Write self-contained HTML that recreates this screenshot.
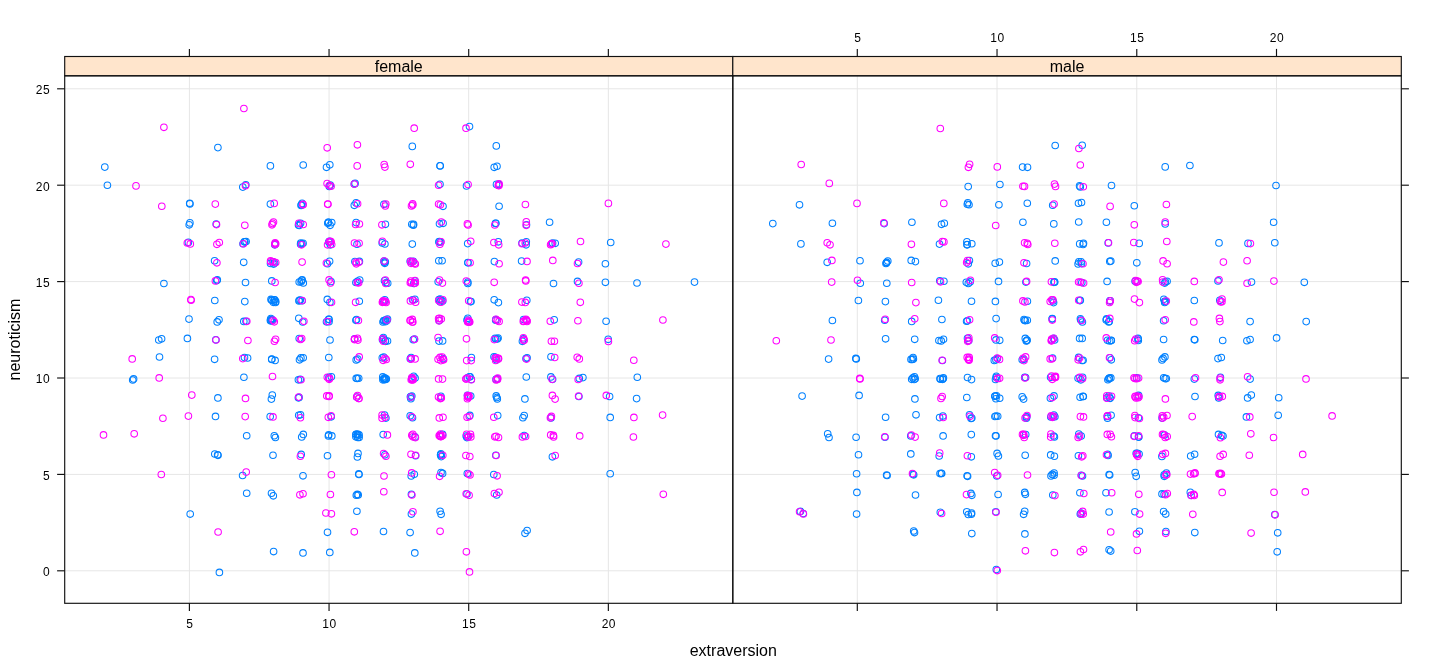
<!DOCTYPE html>
<html lang="en"><head><meta charset="utf-8"><title>neuroticism ~ extraversion | sex</title>
<style>html,body{margin:0;padding:0;background:#fff;overflow:hidden}svg{display:block}text{font-family:"Liberation Sans",sans-serif;fill:#000}.t{font-size:12px;letter-spacing:.5px}.l{font-size:16px}.g{stroke:#e6e6e6;stroke-width:1;fill:none}.k{stroke:#111;stroke-width:1.15;fill:none}.b{stroke:#0080ff}.m{stroke:#ff00ff}circle{fill:none;stroke-width:1.05}</style></head><body>
<svg width="1440" height="672" viewBox="0 0 1440 672">
<rect width="1440" height="672" fill="#fff"/>
<line class="g" x1="189.40" x2="189.40" y1="75.8" y2="603.3"/>
<line class="g" x1="329.05" x2="329.05" y1="75.8" y2="603.3"/>
<line class="g" x1="468.70" x2="468.70" y1="75.8" y2="603.3"/>
<line class="g" x1="608.35" x2="608.35" y1="75.8" y2="603.3"/>
<line class="g" x1="64.7" x2="732.8" y1="570.80" y2="570.80"/>
<line class="g" x1="64.7" x2="732.8" y1="474.40" y2="474.40"/>
<line class="g" x1="64.7" x2="732.8" y1="378.00" y2="378.00"/>
<line class="g" x1="64.7" x2="732.8" y1="281.60" y2="281.60"/>
<line class="g" x1="64.7" x2="732.8" y1="185.20" y2="185.20"/>
<line class="g" x1="64.7" x2="732.8" y1="88.80" y2="88.80"/>
<line class="g" x1="857.30" x2="857.30" y1="75.8" y2="603.3"/>
<line class="g" x1="997.03" x2="997.03" y1="75.8" y2="603.3"/>
<line class="g" x1="1136.77" x2="1136.77" y1="75.8" y2="603.3"/>
<line class="g" x1="1276.50" x2="1276.50" y1="75.8" y2="603.3"/>
<line class="g" x1="732.8" x2="1401.3" y1="570.80" y2="570.80"/>
<line class="g" x1="732.8" x2="1401.3" y1="474.40" y2="474.40"/>
<line class="g" x1="732.8" x2="1401.3" y1="378.00" y2="378.00"/>
<line class="g" x1="732.8" x2="1401.3" y1="281.60" y2="281.60"/>
<line class="g" x1="732.8" x2="1401.3" y1="185.20" y2="185.20"/>
<line class="g" x1="732.8" x2="1401.3" y1="88.80" y2="88.80"/>
<g id="pts">
<circle class="b" cx="469.5" cy="126.6" r="3.3"/>
<circle class="b" cx="217.9" cy="147.6" r="3.3"/>
<circle class="b" cx="412.3" cy="146.4" r="3.3"/>
<circle class="b" cx="496.3" cy="145.9" r="3.3"/>
<circle class="b" cx="104.8" cy="167.1" r="3.3"/>
<circle class="b" cx="270.4" cy="165.9" r="3.3"/>
<circle class="b" cx="303.2" cy="165.0" r="3.3"/>
<circle class="b" cx="326.5" cy="167.3" r="3.3"/>
<circle class="b" cx="329.8" cy="164.8" r="3.3"/>
<circle class="b" cx="440.0" cy="165.7" r="3.3"/>
<circle class="b" cx="440.2" cy="165.9" r="3.3"/>
<circle class="b" cx="494.2" cy="167.3" r="3.3"/>
<circle class="b" cx="497.0" cy="166.2" r="3.3"/>
<circle class="b" cx="107.4" cy="185.2" r="3.3"/>
<circle class="b" cx="245.8" cy="184.7" r="3.3"/>
<circle class="b" cx="242.8" cy="187.1" r="3.3"/>
<circle class="b" cx="329.3" cy="186.4" r="3.3"/>
<circle class="b" cx="330.3" cy="185.0" r="3.3"/>
<circle class="b" cx="354.3" cy="184.1" r="3.3"/>
<circle class="b" cx="355.1" cy="183.4" r="3.3"/>
<circle class="b" cx="440.0" cy="184.3" r="3.3"/>
<circle class="b" cx="466.5" cy="185.9" r="3.3"/>
<circle class="b" cx="496.5" cy="184.4" r="3.3"/>
<circle class="b" cx="498.7" cy="184.4" r="3.3"/>
<circle class="b" cx="189.7" cy="203.2" r="3.3"/>
<circle class="b" cx="189.9" cy="203.9" r="3.3"/>
<circle class="b" cx="270.4" cy="204.1" r="3.3"/>
<circle class="b" cx="301.1" cy="205.4" r="3.3"/>
<circle class="b" cx="302.1" cy="203.4" r="3.3"/>
<circle class="b" cx="301.3" cy="204.8" r="3.3"/>
<circle class="b" cx="356.1" cy="202.9" r="3.3"/>
<circle class="b" cx="354.3" cy="205.3" r="3.3"/>
<circle class="b" cx="383.9" cy="204.3" r="3.3"/>
<circle class="b" cx="443.0" cy="206.3" r="3.3"/>
<circle class="b" cx="499.1" cy="206.2" r="3.3"/>
<circle class="b" cx="189.2" cy="224.8" r="3.3"/>
<circle class="b" cx="189.9" cy="222.9" r="3.3"/>
<circle class="b" cx="216.2" cy="224.1" r="3.3"/>
<circle class="b" cx="298.5" cy="224.9" r="3.3"/>
<circle class="b" cx="300.6" cy="223.3" r="3.3"/>
<circle class="b" cx="299.2" cy="225.5" r="3.3"/>
<circle class="b" cx="328.4" cy="222.3" r="3.3"/>
<circle class="b" cx="328.4" cy="222.3" r="3.3"/>
<circle class="b" cx="330.1" cy="225.3" r="3.3"/>
<circle class="b" cx="331.7" cy="222.6" r="3.3"/>
<circle class="b" cx="327.8" cy="223.2" r="3.3"/>
<circle class="b" cx="356.1" cy="222.6" r="3.3"/>
<circle class="b" cx="385.4" cy="224.3" r="3.3"/>
<circle class="b" cx="411.8" cy="224.2" r="3.3"/>
<circle class="b" cx="413.3" cy="225.2" r="3.3"/>
<circle class="b" cx="413.6" cy="224.4" r="3.3"/>
<circle class="b" cx="443.1" cy="223.3" r="3.3"/>
<circle class="b" cx="439.5" cy="223.8" r="3.3"/>
<circle class="b" cx="495.9" cy="223.3" r="3.3"/>
<circle class="b" cx="495.5" cy="223.4" r="3.3"/>
<circle class="b" cx="526.5" cy="224.7" r="3.3"/>
<circle class="b" cx="549.6" cy="222.2" r="3.3"/>
<circle class="b" cx="188.4" cy="242.4" r="3.3"/>
<circle class="b" cx="243.0" cy="243.7" r="3.3"/>
<circle class="b" cx="244.3" cy="241.8" r="3.3"/>
<circle class="b" cx="244.9" cy="241.7" r="3.3"/>
<circle class="b" cx="246.1" cy="241.6" r="3.3"/>
<circle class="b" cx="274.8" cy="244.8" r="3.3"/>
<circle class="b" cx="275.2" cy="243.7" r="3.3"/>
<circle class="b" cx="300.7" cy="243.0" r="3.3"/>
<circle class="b" cx="303.1" cy="243.2" r="3.3"/>
<circle class="b" cx="301.9" cy="243.8" r="3.3"/>
<circle class="b" cx="300.6" cy="244.2" r="3.3"/>
<circle class="b" cx="329.4" cy="241.2" r="3.3"/>
<circle class="b" cx="330.3" cy="244.8" r="3.3"/>
<circle class="b" cx="328.8" cy="242.1" r="3.3"/>
<circle class="b" cx="357.0" cy="244.2" r="3.3"/>
<circle class="b" cx="384.9" cy="244.0" r="3.3"/>
<circle class="b" cx="382.2" cy="242.9" r="3.3"/>
<circle class="b" cx="412.3" cy="244.1" r="3.3"/>
<circle class="b" cx="439.4" cy="241.6" r="3.3"/>
<circle class="b" cx="440.6" cy="242.0" r="3.3"/>
<circle class="b" cx="438.9" cy="241.9" r="3.3"/>
<circle class="b" cx="467.7" cy="243.6" r="3.3"/>
<circle class="b" cx="498.3" cy="241.8" r="3.3"/>
<circle class="b" cx="526.3" cy="241.7" r="3.3"/>
<circle class="b" cx="526.1" cy="244.8" r="3.3"/>
<circle class="b" cx="522.0" cy="243.1" r="3.3"/>
<circle class="b" cx="552.6" cy="243.1" r="3.3"/>
<circle class="b" cx="555.2" cy="243.3" r="3.3"/>
<circle class="b" cx="610.7" cy="242.5" r="3.3"/>
<circle class="b" cx="214.6" cy="260.7" r="3.3"/>
<circle class="b" cx="243.7" cy="262.3" r="3.3"/>
<circle class="b" cx="273.6" cy="264.1" r="3.3"/>
<circle class="b" cx="273.0" cy="261.7" r="3.3"/>
<circle class="b" cx="274.6" cy="263.0" r="3.3"/>
<circle class="b" cx="270.5" cy="263.4" r="3.3"/>
<circle class="b" cx="329.6" cy="261.2" r="3.3"/>
<circle class="b" cx="327.5" cy="263.7" r="3.3"/>
<circle class="b" cx="354.9" cy="261.6" r="3.3"/>
<circle class="b" cx="359.4" cy="261.4" r="3.3"/>
<circle class="b" cx="384.8" cy="263.3" r="3.3"/>
<circle class="b" cx="384.3" cy="262.2" r="3.3"/>
<circle class="b" cx="385.3" cy="261.7" r="3.3"/>
<circle class="b" cx="384.0" cy="261.0" r="3.3"/>
<circle class="b" cx="413.3" cy="261.2" r="3.3"/>
<circle class="b" cx="410.2" cy="261.3" r="3.3"/>
<circle class="b" cx="411.9" cy="262.1" r="3.3"/>
<circle class="b" cx="438.8" cy="260.7" r="3.3"/>
<circle class="b" cx="442.1" cy="260.7" r="3.3"/>
<circle class="b" cx="468.0" cy="262.7" r="3.3"/>
<circle class="b" cx="467.9" cy="262.6" r="3.3"/>
<circle class="b" cx="494.4" cy="261.6" r="3.3"/>
<circle class="b" cx="521.6" cy="261.1" r="3.3"/>
<circle class="b" cx="578.6" cy="262.1" r="3.3"/>
<circle class="b" cx="605.4" cy="263.7" r="3.3"/>
<circle class="b" cx="163.9" cy="283.5" r="3.3"/>
<circle class="b" cx="217.3" cy="279.8" r="3.3"/>
<circle class="b" cx="216.8" cy="280.6" r="3.3"/>
<circle class="b" cx="245.5" cy="282.5" r="3.3"/>
<circle class="b" cx="271.8" cy="280.9" r="3.3"/>
<circle class="b" cx="299.2" cy="282.0" r="3.3"/>
<circle class="b" cx="303.3" cy="282.9" r="3.3"/>
<circle class="b" cx="301.1" cy="281.7" r="3.3"/>
<circle class="b" cx="302.2" cy="279.9" r="3.3"/>
<circle class="b" cx="301.6" cy="280.2" r="3.3"/>
<circle class="b" cx="331.0" cy="281.5" r="3.3"/>
<circle class="b" cx="357.5" cy="281.3" r="3.3"/>
<circle class="b" cx="359.7" cy="280.1" r="3.3"/>
<circle class="b" cx="355.9" cy="282.5" r="3.3"/>
<circle class="b" cx="384.5" cy="280.8" r="3.3"/>
<circle class="b" cx="386.0" cy="282.7" r="3.3"/>
<circle class="b" cx="387.7" cy="283.2" r="3.3"/>
<circle class="b" cx="415.0" cy="281.0" r="3.3"/>
<circle class="b" cx="413.8" cy="283.4" r="3.3"/>
<circle class="b" cx="438.2" cy="281.8" r="3.3"/>
<circle class="b" cx="467.8" cy="283.4" r="3.3"/>
<circle class="b" cx="467.8" cy="282.1" r="3.3"/>
<circle class="b" cx="553.5" cy="283.5" r="3.3"/>
<circle class="b" cx="577.5" cy="281.4" r="3.3"/>
<circle class="b" cx="605.4" cy="282.3" r="3.3"/>
<circle class="b" cx="637.0" cy="283.0" r="3.3"/>
<circle class="b" cx="694.5" cy="282.1" r="3.3"/>
<circle class="b" cx="214.8" cy="300.5" r="3.3"/>
<circle class="b" cx="244.8" cy="301.6" r="3.3"/>
<circle class="b" cx="273.4" cy="302.3" r="3.3"/>
<circle class="b" cx="271.9" cy="300.2" r="3.3"/>
<circle class="b" cx="271.0" cy="299.4" r="3.3"/>
<circle class="b" cx="275.5" cy="302.4" r="3.3"/>
<circle class="b" cx="275.7" cy="301.4" r="3.3"/>
<circle class="b" cx="274.7" cy="299.9" r="3.3"/>
<circle class="b" cx="272.0" cy="300.2" r="3.3"/>
<circle class="b" cx="274.1" cy="299.7" r="3.3"/>
<circle class="b" cx="302.1" cy="300.7" r="3.3"/>
<circle class="b" cx="299.0" cy="300.9" r="3.3"/>
<circle class="b" cx="300.3" cy="300.0" r="3.3"/>
<circle class="b" cx="299.3" cy="300.3" r="3.3"/>
<circle class="b" cx="327.3" cy="299.4" r="3.3"/>
<circle class="b" cx="329.9" cy="302.3" r="3.3"/>
<circle class="b" cx="359.3" cy="301.2" r="3.3"/>
<circle class="b" cx="383.8" cy="302.1" r="3.3"/>
<circle class="b" cx="384.8" cy="299.8" r="3.3"/>
<circle class="b" cx="414.9" cy="299.2" r="3.3"/>
<circle class="b" cx="412.6" cy="299.7" r="3.3"/>
<circle class="b" cx="441.1" cy="300.2" r="3.3"/>
<circle class="b" cx="440.2" cy="299.0" r="3.3"/>
<circle class="b" cx="439.0" cy="299.5" r="3.3"/>
<circle class="b" cx="440.0" cy="301.7" r="3.3"/>
<circle class="b" cx="442.7" cy="301.1" r="3.3"/>
<circle class="b" cx="470.5" cy="301.6" r="3.3"/>
<circle class="b" cx="471.0" cy="301.6" r="3.3"/>
<circle class="b" cx="494.2" cy="299.8" r="3.3"/>
<circle class="b" cx="498.4" cy="302.6" r="3.3"/>
<circle class="b" cx="526.8" cy="300.2" r="3.3"/>
<circle class="b" cx="189.0" cy="319.1" r="3.3"/>
<circle class="b" cx="217.2" cy="321.9" r="3.3"/>
<circle class="b" cx="219.0" cy="319.8" r="3.3"/>
<circle class="b" cx="243.8" cy="321.4" r="3.3"/>
<circle class="b" cx="246.0" cy="321.3" r="3.3"/>
<circle class="b" cx="272.0" cy="319.6" r="3.3"/>
<circle class="b" cx="271.2" cy="320.3" r="3.3"/>
<circle class="b" cx="270.9" cy="318.5" r="3.3"/>
<circle class="b" cx="270.5" cy="319.7" r="3.3"/>
<circle class="b" cx="270.5" cy="320.8" r="3.3"/>
<circle class="b" cx="272.2" cy="320.8" r="3.3"/>
<circle class="b" cx="302.7" cy="322.0" r="3.3"/>
<circle class="b" cx="298.8" cy="318.3" r="3.3"/>
<circle class="b" cx="328.7" cy="319.2" r="3.3"/>
<circle class="b" cx="329.0" cy="321.7" r="3.3"/>
<circle class="b" cx="326.5" cy="321.8" r="3.3"/>
<circle class="b" cx="329.0" cy="319.4" r="3.3"/>
<circle class="b" cx="356.5" cy="319.6" r="3.3"/>
<circle class="b" cx="355.9" cy="320.3" r="3.3"/>
<circle class="b" cx="386.9" cy="320.4" r="3.3"/>
<circle class="b" cx="384.1" cy="320.5" r="3.3"/>
<circle class="b" cx="387.5" cy="319.0" r="3.3"/>
<circle class="b" cx="383.6" cy="320.7" r="3.3"/>
<circle class="b" cx="383.0" cy="322.0" r="3.3"/>
<circle class="b" cx="385.4" cy="320.1" r="3.3"/>
<circle class="b" cx="385.7" cy="321.6" r="3.3"/>
<circle class="b" cx="439.3" cy="320.6" r="3.3"/>
<circle class="b" cx="469.0" cy="322.0" r="3.3"/>
<circle class="b" cx="467.8" cy="318.3" r="3.3"/>
<circle class="b" cx="467.0" cy="320.1" r="3.3"/>
<circle class="b" cx="495.7" cy="320.2" r="3.3"/>
<circle class="b" cx="495.8" cy="319.5" r="3.3"/>
<circle class="b" cx="523.6" cy="319.5" r="3.3"/>
<circle class="b" cx="554.2" cy="319.8" r="3.3"/>
<circle class="b" cx="606.1" cy="321.2" r="3.3"/>
<circle class="b" cx="158.8" cy="340.0" r="3.3"/>
<circle class="b" cx="161.6" cy="338.8" r="3.3"/>
<circle class="b" cx="187.4" cy="338.4" r="3.3"/>
<circle class="b" cx="215.8" cy="339.8" r="3.3"/>
<circle class="b" cx="299.2" cy="338.6" r="3.3"/>
<circle class="b" cx="330.0" cy="340.0" r="3.3"/>
<circle class="b" cx="354.7" cy="338.7" r="3.3"/>
<circle class="b" cx="382.5" cy="339.8" r="3.3"/>
<circle class="b" cx="387.5" cy="341.0" r="3.3"/>
<circle class="b" cx="385.3" cy="340.9" r="3.3"/>
<circle class="b" cx="383.0" cy="338.9" r="3.3"/>
<circle class="b" cx="385.4" cy="341.3" r="3.3"/>
<circle class="b" cx="383.4" cy="337.6" r="3.3"/>
<circle class="b" cx="413.2" cy="339.7" r="3.3"/>
<circle class="b" cx="414.4" cy="339.0" r="3.3"/>
<circle class="b" cx="439.0" cy="341.1" r="3.3"/>
<circle class="b" cx="442.6" cy="340.9" r="3.3"/>
<circle class="b" cx="495.1" cy="338.2" r="3.3"/>
<circle class="b" cx="497.3" cy="338.9" r="3.3"/>
<circle class="b" cx="498.1" cy="338.0" r="3.3"/>
<circle class="b" cx="495.8" cy="339.0" r="3.3"/>
<circle class="b" cx="522.4" cy="341.3" r="3.3"/>
<circle class="b" cx="523.4" cy="338.9" r="3.3"/>
<circle class="b" cx="608.2" cy="339.3" r="3.3"/>
<circle class="b" cx="159.5" cy="357.0" r="3.3"/>
<circle class="b" cx="214.6" cy="359.3" r="3.3"/>
<circle class="b" cx="247.6" cy="358.0" r="3.3"/>
<circle class="b" cx="244.5" cy="357.6" r="3.3"/>
<circle class="b" cx="275.1" cy="360.4" r="3.3"/>
<circle class="b" cx="271.7" cy="359.0" r="3.3"/>
<circle class="b" cx="271.8" cy="359.4" r="3.3"/>
<circle class="b" cx="299.5" cy="359.8" r="3.3"/>
<circle class="b" cx="303.2" cy="357.8" r="3.3"/>
<circle class="b" cx="300.9" cy="357.9" r="3.3"/>
<circle class="b" cx="328.8" cy="357.5" r="3.3"/>
<circle class="b" cx="356.2" cy="359.9" r="3.3"/>
<circle class="b" cx="357.7" cy="359.1" r="3.3"/>
<circle class="b" cx="383.7" cy="357.0" r="3.3"/>
<circle class="b" cx="382.3" cy="357.8" r="3.3"/>
<circle class="b" cx="410.3" cy="358.8" r="3.3"/>
<circle class="b" cx="411.1" cy="357.6" r="3.3"/>
<circle class="b" cx="443.2" cy="359.0" r="3.3"/>
<circle class="b" cx="443.2" cy="358.8" r="3.3"/>
<circle class="b" cx="471.4" cy="357.6" r="3.3"/>
<circle class="b" cx="496.6" cy="359.7" r="3.3"/>
<circle class="b" cx="495.4" cy="357.2" r="3.3"/>
<circle class="b" cx="494.0" cy="356.8" r="3.3"/>
<circle class="b" cx="526.0" cy="358.5" r="3.3"/>
<circle class="b" cx="527.1" cy="357.8" r="3.3"/>
<circle class="b" cx="551.0" cy="356.8" r="3.3"/>
<circle class="b" cx="132.7" cy="380.0" r="3.3"/>
<circle class="b" cx="133.6" cy="378.9" r="3.3"/>
<circle class="b" cx="243.9" cy="377.2" r="3.3"/>
<circle class="b" cx="300.2" cy="379.4" r="3.3"/>
<circle class="b" cx="298.4" cy="379.8" r="3.3"/>
<circle class="b" cx="328.9" cy="377.4" r="3.3"/>
<circle class="b" cx="331.4" cy="376.8" r="3.3"/>
<circle class="b" cx="357.2" cy="378.4" r="3.3"/>
<circle class="b" cx="356.2" cy="378.2" r="3.3"/>
<circle class="b" cx="358.7" cy="378.2" r="3.3"/>
<circle class="b" cx="382.9" cy="379.8" r="3.3"/>
<circle class="b" cx="384.8" cy="379.0" r="3.3"/>
<circle class="b" cx="384.7" cy="377.7" r="3.3"/>
<circle class="b" cx="383.6" cy="378.7" r="3.3"/>
<circle class="b" cx="385.5" cy="379.5" r="3.3"/>
<circle class="b" cx="382.8" cy="376.9" r="3.3"/>
<circle class="b" cx="386.3" cy="378.9" r="3.3"/>
<circle class="b" cx="384.5" cy="379.6" r="3.3"/>
<circle class="b" cx="411.8" cy="378.6" r="3.3"/>
<circle class="b" cx="413.7" cy="376.3" r="3.3"/>
<circle class="b" cx="415.1" cy="378.0" r="3.3"/>
<circle class="b" cx="470.1" cy="376.7" r="3.3"/>
<circle class="b" cx="469.4" cy="376.8" r="3.3"/>
<circle class="b" cx="467.4" cy="377.8" r="3.3"/>
<circle class="b" cx="471.3" cy="379.4" r="3.3"/>
<circle class="b" cx="496.0" cy="379.2" r="3.3"/>
<circle class="b" cx="497.3" cy="378.7" r="3.3"/>
<circle class="b" cx="526.3" cy="377.0" r="3.3"/>
<circle class="b" cx="552.6" cy="379.3" r="3.3"/>
<circle class="b" cx="550.9" cy="376.9" r="3.3"/>
<circle class="b" cx="579.3" cy="378.4" r="3.3"/>
<circle class="b" cx="582.9" cy="377.6" r="3.3"/>
<circle class="b" cx="637.3" cy="377.2" r="3.3"/>
<circle class="b" cx="217.9" cy="397.9" r="3.3"/>
<circle class="b" cx="271.4" cy="399.1" r="3.3"/>
<circle class="b" cx="272.3" cy="395.1" r="3.3"/>
<circle class="b" cx="298.4" cy="397.8" r="3.3"/>
<circle class="b" cx="299.1" cy="397.4" r="3.3"/>
<circle class="b" cx="356.8" cy="397.1" r="3.3"/>
<circle class="b" cx="411.8" cy="396.0" r="3.3"/>
<circle class="b" cx="410.8" cy="396.9" r="3.3"/>
<circle class="b" cx="410.4" cy="396.8" r="3.3"/>
<circle class="b" cx="410.9" cy="398.7" r="3.3"/>
<circle class="b" cx="440.9" cy="396.3" r="3.3"/>
<circle class="b" cx="470.7" cy="396.0" r="3.3"/>
<circle class="b" cx="467.5" cy="395.4" r="3.3"/>
<circle class="b" cx="496.8" cy="397.5" r="3.3"/>
<circle class="b" cx="497.3" cy="398.9" r="3.3"/>
<circle class="b" cx="496.2" cy="395.9" r="3.3"/>
<circle class="b" cx="524.9" cy="398.9" r="3.3"/>
<circle class="b" cx="578.9" cy="396.5" r="3.3"/>
<circle class="b" cx="609.6" cy="396.5" r="3.3"/>
<circle class="b" cx="636.6" cy="398.6" r="3.3"/>
<circle class="b" cx="215.5" cy="416.4" r="3.3"/>
<circle class="b" cx="270.2" cy="416.6" r="3.3"/>
<circle class="b" cx="298.7" cy="415.2" r="3.3"/>
<circle class="b" cx="300.5" cy="414.7" r="3.3"/>
<circle class="b" cx="331.2" cy="416.8" r="3.3"/>
<circle class="b" cx="384.6" cy="415.0" r="3.3"/>
<circle class="b" cx="385.9" cy="418.1" r="3.3"/>
<circle class="b" cx="412.5" cy="417.7" r="3.3"/>
<circle class="b" cx="410.2" cy="415.7" r="3.3"/>
<circle class="b" cx="469.9" cy="415.4" r="3.3"/>
<circle class="b" cx="497.7" cy="415.6" r="3.3"/>
<circle class="b" cx="522.9" cy="417.7" r="3.3"/>
<circle class="b" cx="524.2" cy="415.6" r="3.3"/>
<circle class="b" cx="551.0" cy="418.0" r="3.3"/>
<circle class="b" cx="610.2" cy="417.4" r="3.3"/>
<circle class="b" cx="246.7" cy="435.7" r="3.3"/>
<circle class="b" cx="274.3" cy="435.7" r="3.3"/>
<circle class="b" cx="275.4" cy="437.5" r="3.3"/>
<circle class="b" cx="301.7" cy="437.0" r="3.3"/>
<circle class="b" cx="303.3" cy="434.4" r="3.3"/>
<circle class="b" cx="328.7" cy="434.7" r="3.3"/>
<circle class="b" cx="328.4" cy="435.9" r="3.3"/>
<circle class="b" cx="331.8" cy="435.9" r="3.3"/>
<circle class="b" cx="357.5" cy="434.1" r="3.3"/>
<circle class="b" cx="355.9" cy="436.7" r="3.3"/>
<circle class="b" cx="357.8" cy="434.9" r="3.3"/>
<circle class="b" cx="359.1" cy="437.5" r="3.3"/>
<circle class="b" cx="359.1" cy="434.9" r="3.3"/>
<circle class="b" cx="356.0" cy="434.5" r="3.3"/>
<circle class="b" cx="356.0" cy="434.2" r="3.3"/>
<circle class="b" cx="357.7" cy="437.4" r="3.3"/>
<circle class="b" cx="383.2" cy="434.6" r="3.3"/>
<circle class="b" cx="415.0" cy="436.9" r="3.3"/>
<circle class="b" cx="442.6" cy="434.2" r="3.3"/>
<circle class="b" cx="466.2" cy="436.1" r="3.3"/>
<circle class="b" cx="467.7" cy="437.0" r="3.3"/>
<circle class="b" cx="466.9" cy="437.6" r="3.3"/>
<circle class="b" cx="524.2" cy="435.6" r="3.3"/>
<circle class="b" cx="217.6" cy="454.7" r="3.3"/>
<circle class="b" cx="218.0" cy="455.3" r="3.3"/>
<circle class="b" cx="214.8" cy="454.0" r="3.3"/>
<circle class="b" cx="273.0" cy="455.2" r="3.3"/>
<circle class="b" cx="301.2" cy="454.4" r="3.3"/>
<circle class="b" cx="327.5" cy="455.7" r="3.3"/>
<circle class="b" cx="357.4" cy="457.0" r="3.3"/>
<circle class="b" cx="358.0" cy="453.4" r="3.3"/>
<circle class="b" cx="384.9" cy="454.8" r="3.3"/>
<circle class="b" cx="415.6" cy="455.7" r="3.3"/>
<circle class="b" cx="441.2" cy="456.6" r="3.3"/>
<circle class="b" cx="440.9" cy="453.8" r="3.3"/>
<circle class="b" cx="440.6" cy="455.0" r="3.3"/>
<circle class="b" cx="440.7" cy="454.8" r="3.3"/>
<circle class="b" cx="495.8" cy="455.2" r="3.3"/>
<circle class="b" cx="552.4" cy="456.8" r="3.3"/>
<circle class="b" cx="242.6" cy="475.5" r="3.3"/>
<circle class="b" cx="303.0" cy="475.8" r="3.3"/>
<circle class="b" cx="358.8" cy="473.9" r="3.3"/>
<circle class="b" cx="359.0" cy="474.5" r="3.3"/>
<circle class="b" cx="411.2" cy="476.0" r="3.3"/>
<circle class="b" cx="414.3" cy="474.2" r="3.3"/>
<circle class="b" cx="441.0" cy="472.5" r="3.3"/>
<circle class="b" cx="442.6" cy="473.4" r="3.3"/>
<circle class="b" cx="467.3" cy="473.6" r="3.3"/>
<circle class="b" cx="493.8" cy="474.5" r="3.3"/>
<circle class="b" cx="610.2" cy="473.7" r="3.3"/>
<circle class="b" cx="246.7" cy="493.2" r="3.3"/>
<circle class="b" cx="271.5" cy="493.2" r="3.3"/>
<circle class="b" cx="273.3" cy="495.8" r="3.3"/>
<circle class="b" cx="356.3" cy="495.2" r="3.3"/>
<circle class="b" cx="357.3" cy="494.4" r="3.3"/>
<circle class="b" cx="358.2" cy="494.9" r="3.3"/>
<circle class="b" cx="411.4" cy="494.3" r="3.3"/>
<circle class="b" cx="467.0" cy="494.0" r="3.3"/>
<circle class="b" cx="496.7" cy="495.0" r="3.3"/>
<circle class="b" cx="190.2" cy="514.1" r="3.3"/>
<circle class="b" cx="356.9" cy="511.2" r="3.3"/>
<circle class="b" cx="411.4" cy="514.1" r="3.3"/>
<circle class="b" cx="440.1" cy="511.2" r="3.3"/>
<circle class="b" cx="441.1" cy="514.3" r="3.3"/>
<circle class="b" cx="327.5" cy="532.3" r="3.3"/>
<circle class="b" cx="383.5" cy="531.5" r="3.3"/>
<circle class="b" cx="410.1" cy="532.6" r="3.3"/>
<circle class="b" cx="525.0" cy="533.3" r="3.3"/>
<circle class="b" cx="527.1" cy="530.5" r="3.3"/>
<circle class="b" cx="273.6" cy="551.6" r="3.3"/>
<circle class="b" cx="303.0" cy="552.9" r="3.3"/>
<circle class="b" cx="329.8" cy="552.4" r="3.3"/>
<circle class="b" cx="414.8" cy="552.9" r="3.3"/>
<circle class="b" cx="219.4" cy="572.4" r="3.3"/>
<circle class="m" cx="243.9" cy="108.5" r="3.3"/>
<circle class="m" cx="163.9" cy="127.3" r="3.3"/>
<circle class="m" cx="414.2" cy="128.2" r="3.3"/>
<circle class="m" cx="466.0" cy="128.2" r="3.3"/>
<circle class="m" cx="327.2" cy="147.8" r="3.3"/>
<circle class="m" cx="357.4" cy="144.8" r="3.3"/>
<circle class="m" cx="357.2" cy="165.9" r="3.3"/>
<circle class="m" cx="384.2" cy="164.5" r="3.3"/>
<circle class="m" cx="384.9" cy="167.1" r="3.3"/>
<circle class="m" cx="410.3" cy="164.3" r="3.3"/>
<circle class="m" cx="136.0" cy="185.9" r="3.3"/>
<circle class="m" cx="245.5" cy="185.7" r="3.3"/>
<circle class="m" cx="329.3" cy="185.6" r="3.3"/>
<circle class="m" cx="331.1" cy="186.2" r="3.3"/>
<circle class="m" cx="327.1" cy="183.6" r="3.3"/>
<circle class="m" cx="354.4" cy="184.1" r="3.3"/>
<circle class="m" cx="438.6" cy="185.2" r="3.3"/>
<circle class="m" cx="468.1" cy="184.5" r="3.3"/>
<circle class="m" cx="499.0" cy="185.6" r="3.3"/>
<circle class="m" cx="498.3" cy="185.4" r="3.3"/>
<circle class="m" cx="499.1" cy="183.7" r="3.3"/>
<circle class="m" cx="161.8" cy="206.2" r="3.3"/>
<circle class="m" cx="215.3" cy="204.1" r="3.3"/>
<circle class="m" cx="274.2" cy="203.4" r="3.3"/>
<circle class="m" cx="303.1" cy="204.8" r="3.3"/>
<circle class="m" cx="303.0" cy="204.2" r="3.3"/>
<circle class="m" cx="327.7" cy="204.1" r="3.3"/>
<circle class="m" cx="327.9" cy="204.3" r="3.3"/>
<circle class="m" cx="357.6" cy="203.7" r="3.3"/>
<circle class="m" cx="385.3" cy="206.0" r="3.3"/>
<circle class="m" cx="385.8" cy="204.0" r="3.3"/>
<circle class="m" cx="411.5" cy="205.9" r="3.3"/>
<circle class="m" cx="412.7" cy="203.9" r="3.3"/>
<circle class="m" cx="412.7" cy="205.1" r="3.3"/>
<circle class="m" cx="440.4" cy="204.8" r="3.3"/>
<circle class="m" cx="438.6" cy="204.1" r="3.3"/>
<circle class="m" cx="525.4" cy="204.5" r="3.3"/>
<circle class="m" cx="608.4" cy="203.4" r="3.3"/>
<circle class="m" cx="216.5" cy="224.6" r="3.3"/>
<circle class="m" cx="244.8" cy="225.3" r="3.3"/>
<circle class="m" cx="272.5" cy="223.4" r="3.3"/>
<circle class="m" cx="273.5" cy="222.1" r="3.3"/>
<circle class="m" cx="272.0" cy="224.8" r="3.3"/>
<circle class="m" cx="298.8" cy="223.4" r="3.3"/>
<circle class="m" cx="303.2" cy="224.5" r="3.3"/>
<circle class="m" cx="359.4" cy="224.0" r="3.3"/>
<circle class="m" cx="355.6" cy="224.5" r="3.3"/>
<circle class="m" cx="381.9" cy="224.8" r="3.3"/>
<circle class="m" cx="441.3" cy="222.0" r="3.3"/>
<circle class="m" cx="467.4" cy="223.9" r="3.3"/>
<circle class="m" cx="468.1" cy="225.0" r="3.3"/>
<circle class="m" cx="494.8" cy="225.0" r="3.3"/>
<circle class="m" cx="526.2" cy="225.3" r="3.3"/>
<circle class="m" cx="526.3" cy="221.9" r="3.3"/>
<circle class="m" cx="187.3" cy="243.0" r="3.3"/>
<circle class="m" cx="190.3" cy="243.9" r="3.3"/>
<circle class="m" cx="216.9" cy="244.3" r="3.3"/>
<circle class="m" cx="219.3" cy="242.5" r="3.3"/>
<circle class="m" cx="243.4" cy="243.7" r="3.3"/>
<circle class="m" cx="275.7" cy="243.8" r="3.3"/>
<circle class="m" cx="275.1" cy="242.8" r="3.3"/>
<circle class="m" cx="275.0" cy="244.6" r="3.3"/>
<circle class="m" cx="301.5" cy="244.8" r="3.3"/>
<circle class="m" cx="330.4" cy="241.3" r="3.3"/>
<circle class="m" cx="329.3" cy="241.5" r="3.3"/>
<circle class="m" cx="331.1" cy="241.7" r="3.3"/>
<circle class="m" cx="331.7" cy="244.5" r="3.3"/>
<circle class="m" cx="327.6" cy="244.8" r="3.3"/>
<circle class="m" cx="359.1" cy="243.3" r="3.3"/>
<circle class="m" cx="354.5" cy="243.1" r="3.3"/>
<circle class="m" cx="382.4" cy="241.4" r="3.3"/>
<circle class="m" cx="439.9" cy="244.2" r="3.3"/>
<circle class="m" cx="441.0" cy="241.8" r="3.3"/>
<circle class="m" cx="470.7" cy="241.3" r="3.3"/>
<circle class="m" cx="493.9" cy="242.5" r="3.3"/>
<circle class="m" cx="498.7" cy="244.8" r="3.3"/>
<circle class="m" cx="525.2" cy="243.0" r="3.3"/>
<circle class="m" cx="522.1" cy="243.7" r="3.3"/>
<circle class="m" cx="550.6" cy="244.7" r="3.3"/>
<circle class="m" cx="551.9" cy="243.5" r="3.3"/>
<circle class="m" cx="551.4" cy="243.9" r="3.3"/>
<circle class="m" cx="580.5" cy="241.5" r="3.3"/>
<circle class="m" cx="665.9" cy="244.1" r="3.3"/>
<circle class="m" cx="216.9" cy="262.8" r="3.3"/>
<circle class="m" cx="273.4" cy="261.8" r="3.3"/>
<circle class="m" cx="270.6" cy="260.8" r="3.3"/>
<circle class="m" cx="270.7" cy="261.8" r="3.3"/>
<circle class="m" cx="275.7" cy="262.6" r="3.3"/>
<circle class="m" cx="302.1" cy="262.1" r="3.3"/>
<circle class="m" cx="326.4" cy="263.0" r="3.3"/>
<circle class="m" cx="358.9" cy="262.2" r="3.3"/>
<circle class="m" cx="356.3" cy="263.8" r="3.3"/>
<circle class="m" cx="356.0" cy="262.2" r="3.3"/>
<circle class="m" cx="384.2" cy="261.1" r="3.3"/>
<circle class="m" cx="412.9" cy="261.5" r="3.3"/>
<circle class="m" cx="410.6" cy="261.4" r="3.3"/>
<circle class="m" cx="415.3" cy="264.0" r="3.3"/>
<circle class="m" cx="414.7" cy="263.3" r="3.3"/>
<circle class="m" cx="411.1" cy="263.3" r="3.3"/>
<circle class="m" cx="470.1" cy="262.7" r="3.3"/>
<circle class="m" cx="499.1" cy="263.7" r="3.3"/>
<circle class="m" cx="527.0" cy="261.4" r="3.3"/>
<circle class="m" cx="552.8" cy="260.4" r="3.3"/>
<circle class="m" cx="577.5" cy="263.5" r="3.3"/>
<circle class="m" cx="215.4" cy="280.9" r="3.3"/>
<circle class="m" cx="275.1" cy="282.5" r="3.3"/>
<circle class="m" cx="330.5" cy="283.0" r="3.3"/>
<circle class="m" cx="329.1" cy="279.9" r="3.3"/>
<circle class="m" cx="358.7" cy="282.8" r="3.3"/>
<circle class="m" cx="357.4" cy="282.6" r="3.3"/>
<circle class="m" cx="385.4" cy="280.1" r="3.3"/>
<circle class="m" cx="385.8" cy="283.4" r="3.3"/>
<circle class="m" cx="414.4" cy="283.3" r="3.3"/>
<circle class="m" cx="411.3" cy="282.5" r="3.3"/>
<circle class="m" cx="415.0" cy="280.5" r="3.3"/>
<circle class="m" cx="410.8" cy="281.1" r="3.3"/>
<circle class="m" cx="415.3" cy="282.9" r="3.3"/>
<circle class="m" cx="410.3" cy="282.8" r="3.3"/>
<circle class="m" cx="442.4" cy="283.1" r="3.3"/>
<circle class="m" cx="439.5" cy="280.0" r="3.3"/>
<circle class="m" cx="466.3" cy="281.0" r="3.3"/>
<circle class="m" cx="494.2" cy="282.3" r="3.3"/>
<circle class="m" cx="525.6" cy="280.0" r="3.3"/>
<circle class="m" cx="525.8" cy="280.9" r="3.3"/>
<circle class="m" cx="578.9" cy="283.2" r="3.3"/>
<circle class="m" cx="190.9" cy="299.5" r="3.3"/>
<circle class="m" cx="191.1" cy="300.2" r="3.3"/>
<circle class="m" cx="302.1" cy="300.6" r="3.3"/>
<circle class="m" cx="331.5" cy="302.3" r="3.3"/>
<circle class="m" cx="355.6" cy="302.3" r="3.3"/>
<circle class="m" cx="386.1" cy="302.4" r="3.3"/>
<circle class="m" cx="383.1" cy="300.7" r="3.3"/>
<circle class="m" cx="385.3" cy="301.3" r="3.3"/>
<circle class="m" cx="382.7" cy="301.8" r="3.3"/>
<circle class="m" cx="382.4" cy="302.3" r="3.3"/>
<circle class="m" cx="384.8" cy="301.8" r="3.3"/>
<circle class="m" cx="410.4" cy="300.9" r="3.3"/>
<circle class="m" cx="415.6" cy="302.2" r="3.3"/>
<circle class="m" cx="413.3" cy="300.2" r="3.3"/>
<circle class="m" cx="438.7" cy="300.5" r="3.3"/>
<circle class="m" cx="442.8" cy="299.7" r="3.3"/>
<circle class="m" cx="441.0" cy="302.2" r="3.3"/>
<circle class="m" cx="468.7" cy="300.8" r="3.3"/>
<circle class="m" cx="521.9" cy="302.1" r="3.3"/>
<circle class="m" cx="525.3" cy="302.4" r="3.3"/>
<circle class="m" cx="580.3" cy="302.3" r="3.3"/>
<circle class="m" cx="246.8" cy="321.3" r="3.3"/>
<circle class="m" cx="273.2" cy="320.2" r="3.3"/>
<circle class="m" cx="274.3" cy="321.8" r="3.3"/>
<circle class="m" cx="303.9" cy="321.3" r="3.3"/>
<circle class="m" cx="327.4" cy="321.5" r="3.3"/>
<circle class="m" cx="358.4" cy="320.5" r="3.3"/>
<circle class="m" cx="386.9" cy="320.0" r="3.3"/>
<circle class="m" cx="412.8" cy="321.9" r="3.3"/>
<circle class="m" cx="410.2" cy="320.4" r="3.3"/>
<circle class="m" cx="412.3" cy="319.4" r="3.3"/>
<circle class="m" cx="410.3" cy="320.5" r="3.3"/>
<circle class="m" cx="412.3" cy="322.0" r="3.3"/>
<circle class="m" cx="439.0" cy="320.8" r="3.3"/>
<circle class="m" cx="438.6" cy="318.6" r="3.3"/>
<circle class="m" cx="441.3" cy="319.0" r="3.3"/>
<circle class="m" cx="439.6" cy="318.3" r="3.3"/>
<circle class="m" cx="467.7" cy="321.9" r="3.3"/>
<circle class="m" cx="468.3" cy="321.7" r="3.3"/>
<circle class="m" cx="469.4" cy="321.7" r="3.3"/>
<circle class="m" cx="469.7" cy="322.0" r="3.3"/>
<circle class="m" cx="468.7" cy="320.2" r="3.3"/>
<circle class="m" cx="496.0" cy="319.2" r="3.3"/>
<circle class="m" cx="497.4" cy="320.6" r="3.3"/>
<circle class="m" cx="499.1" cy="321.4" r="3.3"/>
<circle class="m" cx="527.0" cy="321.4" r="3.3"/>
<circle class="m" cx="525.9" cy="319.3" r="3.3"/>
<circle class="m" cx="526.4" cy="320.0" r="3.3"/>
<circle class="m" cx="526.9" cy="320.7" r="3.3"/>
<circle class="m" cx="524.1" cy="321.2" r="3.3"/>
<circle class="m" cx="526.1" cy="320.2" r="3.3"/>
<circle class="m" cx="523.3" cy="321.4" r="3.3"/>
<circle class="m" cx="550.3" cy="321.2" r="3.3"/>
<circle class="m" cx="577.9" cy="320.7" r="3.3"/>
<circle class="m" cx="662.9" cy="320.0" r="3.3"/>
<circle class="m" cx="216.0" cy="340.0" r="3.3"/>
<circle class="m" cx="247.9" cy="340.5" r="3.3"/>
<circle class="m" cx="274.4" cy="341.2" r="3.3"/>
<circle class="m" cx="275.6" cy="339.3" r="3.3"/>
<circle class="m" cx="301.7" cy="338.6" r="3.3"/>
<circle class="m" cx="300.5" cy="339.5" r="3.3"/>
<circle class="m" cx="357.9" cy="340.1" r="3.3"/>
<circle class="m" cx="357.5" cy="338.3" r="3.3"/>
<circle class="m" cx="354.5" cy="339.0" r="3.3"/>
<circle class="m" cx="354.5" cy="339.6" r="3.3"/>
<circle class="m" cx="382.6" cy="338.9" r="3.3"/>
<circle class="m" cx="383.5" cy="341.2" r="3.3"/>
<circle class="m" cx="414.5" cy="339.3" r="3.3"/>
<circle class="m" cx="438.1" cy="337.6" r="3.3"/>
<circle class="m" cx="466.5" cy="338.8" r="3.3"/>
<circle class="m" cx="494.3" cy="339.6" r="3.3"/>
<circle class="m" cx="523.4" cy="337.7" r="3.3"/>
<circle class="m" cx="524.2" cy="339.9" r="3.3"/>
<circle class="m" cx="523.7" cy="340.6" r="3.3"/>
<circle class="m" cx="551.4" cy="341.2" r="3.3"/>
<circle class="m" cx="554.4" cy="341.2" r="3.3"/>
<circle class="m" cx="608.4" cy="341.4" r="3.3"/>
<circle class="m" cx="132.2" cy="358.9" r="3.3"/>
<circle class="m" cx="242.8" cy="358.6" r="3.3"/>
<circle class="m" cx="359.2" cy="356.9" r="3.3"/>
<circle class="m" cx="383.1" cy="360.3" r="3.3"/>
<circle class="m" cx="386.2" cy="359.5" r="3.3"/>
<circle class="m" cx="385.0" cy="358.2" r="3.3"/>
<circle class="m" cx="410.8" cy="358.9" r="3.3"/>
<circle class="m" cx="415.1" cy="358.9" r="3.3"/>
<circle class="m" cx="411.2" cy="358.8" r="3.3"/>
<circle class="m" cx="443.6" cy="359.8" r="3.3"/>
<circle class="m" cx="443.3" cy="359.5" r="3.3"/>
<circle class="m" cx="438.1" cy="359.2" r="3.3"/>
<circle class="m" cx="440.0" cy="357.4" r="3.3"/>
<circle class="m" cx="442.2" cy="357.1" r="3.3"/>
<circle class="m" cx="440.9" cy="360.6" r="3.3"/>
<circle class="m" cx="466.7" cy="360.6" r="3.3"/>
<circle class="m" cx="471.2" cy="360.6" r="3.3"/>
<circle class="m" cx="498.5" cy="358.3" r="3.3"/>
<circle class="m" cx="498.4" cy="358.9" r="3.3"/>
<circle class="m" cx="495.3" cy="358.1" r="3.3"/>
<circle class="m" cx="496.6" cy="357.9" r="3.3"/>
<circle class="m" cx="495.7" cy="360.5" r="3.3"/>
<circle class="m" cx="526.5" cy="359.1" r="3.3"/>
<circle class="m" cx="554.7" cy="357.5" r="3.3"/>
<circle class="m" cx="577.2" cy="357.2" r="3.3"/>
<circle class="m" cx="579.3" cy="358.9" r="3.3"/>
<circle class="m" cx="633.8" cy="360.2" r="3.3"/>
<circle class="m" cx="159.2" cy="377.9" r="3.3"/>
<circle class="m" cx="272.5" cy="376.5" r="3.3"/>
<circle class="m" cx="301.0" cy="379.7" r="3.3"/>
<circle class="m" cx="329.6" cy="378.3" r="3.3"/>
<circle class="m" cx="329.2" cy="379.3" r="3.3"/>
<circle class="m" cx="327.3" cy="377.3" r="3.3"/>
<circle class="m" cx="412.3" cy="379.7" r="3.3"/>
<circle class="m" cx="411.2" cy="379.8" r="3.3"/>
<circle class="m" cx="411.8" cy="377.6" r="3.3"/>
<circle class="m" cx="413.1" cy="379.8" r="3.3"/>
<circle class="m" cx="412.4" cy="378.3" r="3.3"/>
<circle class="m" cx="438.6" cy="378.9" r="3.3"/>
<circle class="m" cx="442.5" cy="379.1" r="3.3"/>
<circle class="m" cx="465.9" cy="378.8" r="3.3"/>
<circle class="m" cx="471.3" cy="379.7" r="3.3"/>
<circle class="m" cx="467.4" cy="378.1" r="3.3"/>
<circle class="m" cx="466.2" cy="379.0" r="3.3"/>
<circle class="m" cx="497.7" cy="378.1" r="3.3"/>
<circle class="m" cx="496.1" cy="379.9" r="3.3"/>
<circle class="m" cx="497.5" cy="379.4" r="3.3"/>
<circle class="m" cx="552.1" cy="379.2" r="3.3"/>
<circle class="m" cx="578.2" cy="379.5" r="3.3"/>
<circle class="m" cx="191.8" cy="395.1" r="3.3"/>
<circle class="m" cx="245.5" cy="398.4" r="3.3"/>
<circle class="m" cx="298.7" cy="397.1" r="3.3"/>
<circle class="m" cx="326.8" cy="395.9" r="3.3"/>
<circle class="m" cx="328.9" cy="396.4" r="3.3"/>
<circle class="m" cx="329.2" cy="395.9" r="3.3"/>
<circle class="m" cx="356.7" cy="397.1" r="3.3"/>
<circle class="m" cx="358.8" cy="398.4" r="3.3"/>
<circle class="m" cx="357.5" cy="395.6" r="3.3"/>
<circle class="m" cx="358.9" cy="398.5" r="3.3"/>
<circle class="m" cx="411.0" cy="397.0" r="3.3"/>
<circle class="m" cx="438.5" cy="397.1" r="3.3"/>
<circle class="m" cx="440.4" cy="398.6" r="3.3"/>
<circle class="m" cx="441.3" cy="398.0" r="3.3"/>
<circle class="m" cx="440.8" cy="397.8" r="3.3"/>
<circle class="m" cx="467.4" cy="398.7" r="3.3"/>
<circle class="m" cx="468.7" cy="396.4" r="3.3"/>
<circle class="m" cx="467.8" cy="396.7" r="3.3"/>
<circle class="m" cx="467.5" cy="395.5" r="3.3"/>
<circle class="m" cx="468.4" cy="397.4" r="3.3"/>
<circle class="m" cx="468.9" cy="395.8" r="3.3"/>
<circle class="m" cx="552.4" cy="395.4" r="3.3"/>
<circle class="m" cx="555.1" cy="399.1" r="3.3"/>
<circle class="m" cx="578.6" cy="396.1" r="3.3"/>
<circle class="m" cx="606.3" cy="395.4" r="3.3"/>
<circle class="m" cx="162.9" cy="418.2" r="3.3"/>
<circle class="m" cx="188.4" cy="416.1" r="3.3"/>
<circle class="m" cx="245.2" cy="416.6" r="3.3"/>
<circle class="m" cx="273.0" cy="416.9" r="3.3"/>
<circle class="m" cx="300.4" cy="417.7" r="3.3"/>
<circle class="m" cx="331.1" cy="415.7" r="3.3"/>
<circle class="m" cx="328.3" cy="417.3" r="3.3"/>
<circle class="m" cx="384.9" cy="417.2" r="3.3"/>
<circle class="m" cx="382.1" cy="418.2" r="3.3"/>
<circle class="m" cx="382.1" cy="415.1" r="3.3"/>
<circle class="m" cx="411.8" cy="416.8" r="3.3"/>
<circle class="m" cx="439.3" cy="417.9" r="3.3"/>
<circle class="m" cx="443.0" cy="417.2" r="3.3"/>
<circle class="m" cx="467.1" cy="417.2" r="3.3"/>
<circle class="m" cx="469.2" cy="416.5" r="3.3"/>
<circle class="m" cx="493.8" cy="417.2" r="3.3"/>
<circle class="m" cx="551.4" cy="416.4" r="3.3"/>
<circle class="m" cx="550.4" cy="417.8" r="3.3"/>
<circle class="m" cx="633.9" cy="417.4" r="3.3"/>
<circle class="m" cx="662.6" cy="415.1" r="3.3"/>
<circle class="m" cx="103.5" cy="434.9" r="3.3"/>
<circle class="m" cx="134.2" cy="433.8" r="3.3"/>
<circle class="m" cx="387.4" cy="434.9" r="3.3"/>
<circle class="m" cx="411.8" cy="435.3" r="3.3"/>
<circle class="m" cx="415.4" cy="437.6" r="3.3"/>
<circle class="m" cx="412.9" cy="434.3" r="3.3"/>
<circle class="m" cx="412.9" cy="436.8" r="3.3"/>
<circle class="m" cx="440.2" cy="436.4" r="3.3"/>
<circle class="m" cx="440.5" cy="434.1" r="3.3"/>
<circle class="m" cx="439.2" cy="435.6" r="3.3"/>
<circle class="m" cx="439.9" cy="435.5" r="3.3"/>
<circle class="m" cx="441.2" cy="436.4" r="3.3"/>
<circle class="m" cx="440.9" cy="436.6" r="3.3"/>
<circle class="m" cx="442.8" cy="435.5" r="3.3"/>
<circle class="m" cx="470.8" cy="436.9" r="3.3"/>
<circle class="m" cx="470.5" cy="434.2" r="3.3"/>
<circle class="m" cx="466.6" cy="434.2" r="3.3"/>
<circle class="m" cx="468.1" cy="437.0" r="3.3"/>
<circle class="m" cx="468.7" cy="436.3" r="3.3"/>
<circle class="m" cx="498.5" cy="437.5" r="3.3"/>
<circle class="m" cx="496.1" cy="436.3" r="3.3"/>
<circle class="m" cx="494.8" cy="436.8" r="3.3"/>
<circle class="m" cx="525.6" cy="436.5" r="3.3"/>
<circle class="m" cx="522.4" cy="436.9" r="3.3"/>
<circle class="m" cx="553.6" cy="436.9" r="3.3"/>
<circle class="m" cx="553.4" cy="435.4" r="3.3"/>
<circle class="m" cx="550.7" cy="434.9" r="3.3"/>
<circle class="m" cx="579.7" cy="435.9" r="3.3"/>
<circle class="m" cx="633.4" cy="437.0" r="3.3"/>
<circle class="m" cx="300.4" cy="456.2" r="3.3"/>
<circle class="m" cx="383.6" cy="453.6" r="3.3"/>
<circle class="m" cx="385.9" cy="456.2" r="3.3"/>
<circle class="m" cx="415.6" cy="455.2" r="3.3"/>
<circle class="m" cx="411.0" cy="454.3" r="3.3"/>
<circle class="m" cx="442.8" cy="455.3" r="3.3"/>
<circle class="m" cx="465.9" cy="455.5" r="3.3"/>
<circle class="m" cx="469.8" cy="456.5" r="3.3"/>
<circle class="m" cx="496.1" cy="455.5" r="3.3"/>
<circle class="m" cx="555.2" cy="455.5" r="3.3"/>
<circle class="m" cx="161.3" cy="474.5" r="3.3"/>
<circle class="m" cx="246.2" cy="472.1" r="3.3"/>
<circle class="m" cx="331.4" cy="474.7" r="3.3"/>
<circle class="m" cx="384.0" cy="476.0" r="3.3"/>
<circle class="m" cx="411.7" cy="472.9" r="3.3"/>
<circle class="m" cx="439.6" cy="476.3" r="3.3"/>
<circle class="m" cx="470.0" cy="475.0" r="3.3"/>
<circle class="m" cx="468.6" cy="474.1" r="3.3"/>
<circle class="m" cx="497.1" cy="475.8" r="3.3"/>
<circle class="m" cx="299.9" cy="494.8" r="3.3"/>
<circle class="m" cx="303.0" cy="493.7" r="3.3"/>
<circle class="m" cx="330.4" cy="494.5" r="3.3"/>
<circle class="m" cx="383.8" cy="491.7" r="3.3"/>
<circle class="m" cx="411.9" cy="495.0" r="3.3"/>
<circle class="m" cx="469.1" cy="495.2" r="3.3"/>
<circle class="m" cx="466.2" cy="493.7" r="3.3"/>
<circle class="m" cx="494.4" cy="493.5" r="3.3"/>
<circle class="m" cx="499.0" cy="492.3" r="3.3"/>
<circle class="m" cx="663.3" cy="494.3" r="3.3"/>
<circle class="m" cx="325.9" cy="513.0" r="3.3"/>
<circle class="m" cx="331.4" cy="513.8" r="3.3"/>
<circle class="m" cx="412.9" cy="511.7" r="3.3"/>
<circle class="m" cx="218.1" cy="532.0" r="3.3"/>
<circle class="m" cx="354.3" cy="531.8" r="3.3"/>
<circle class="m" cx="440.1" cy="531.3" r="3.3"/>
<circle class="m" cx="466.4" cy="551.8" r="3.3"/>
<circle class="m" cx="469.5" cy="571.9" r="3.3"/>
<circle class="b" cx="1055.2" cy="145.5" r="3.3"/>
<circle class="b" cx="1082.2" cy="145.2" r="3.3"/>
<circle class="b" cx="1022.6" cy="167.1" r="3.3"/>
<circle class="b" cx="1027.5" cy="167.3" r="3.3"/>
<circle class="b" cx="1165.2" cy="166.9" r="3.3"/>
<circle class="b" cx="1189.9" cy="165.5" r="3.3"/>
<circle class="b" cx="968.2" cy="186.6" r="3.3"/>
<circle class="b" cx="999.9" cy="184.5" r="3.3"/>
<circle class="b" cx="1080.3" cy="186.9" r="3.3"/>
<circle class="b" cx="1079.6" cy="185.9" r="3.3"/>
<circle class="b" cx="1111.5" cy="185.5" r="3.3"/>
<circle class="b" cx="1276.0" cy="185.5" r="3.3"/>
<circle class="b" cx="799.5" cy="204.8" r="3.3"/>
<circle class="b" cx="969.0" cy="204.7" r="3.3"/>
<circle class="b" cx="967.8" cy="202.7" r="3.3"/>
<circle class="b" cx="967.3" cy="204.2" r="3.3"/>
<circle class="b" cx="998.9" cy="204.8" r="3.3"/>
<circle class="b" cx="1027.3" cy="203.2" r="3.3"/>
<circle class="b" cx="1052.7" cy="205.2" r="3.3"/>
<circle class="b" cx="1078.5" cy="203.2" r="3.3"/>
<circle class="b" cx="1081.5" cy="202.5" r="3.3"/>
<circle class="b" cx="1134.3" cy="205.7" r="3.3"/>
<circle class="b" cx="772.8" cy="223.6" r="3.3"/>
<circle class="b" cx="832.4" cy="223.2" r="3.3"/>
<circle class="b" cx="884.2" cy="223.6" r="3.3"/>
<circle class="b" cx="911.9" cy="222.2" r="3.3"/>
<circle class="b" cx="941.5" cy="224.3" r="3.3"/>
<circle class="b" cx="944.3" cy="223.2" r="3.3"/>
<circle class="b" cx="1022.9" cy="222.2" r="3.3"/>
<circle class="b" cx="1053.8" cy="223.9" r="3.3"/>
<circle class="b" cx="1078.7" cy="222.0" r="3.3"/>
<circle class="b" cx="1106.4" cy="222.2" r="3.3"/>
<circle class="b" cx="1165.2" cy="223.9" r="3.3"/>
<circle class="b" cx="1273.6" cy="222.2" r="3.3"/>
<circle class="b" cx="800.9" cy="243.9" r="3.3"/>
<circle class="b" cx="939.5" cy="244.1" r="3.3"/>
<circle class="b" cx="967.1" cy="244.6" r="3.3"/>
<circle class="b" cx="971.8" cy="243.7" r="3.3"/>
<circle class="b" cx="966.9" cy="241.8" r="3.3"/>
<circle class="b" cx="967.1" cy="244.8" r="3.3"/>
<circle class="b" cx="1083.5" cy="243.3" r="3.3"/>
<circle class="b" cx="1079.7" cy="243.9" r="3.3"/>
<circle class="b" cx="1083.1" cy="244.4" r="3.3"/>
<circle class="b" cx="1108.2" cy="242.9" r="3.3"/>
<circle class="b" cx="1139.2" cy="243.4" r="3.3"/>
<circle class="b" cx="1219.0" cy="242.9" r="3.3"/>
<circle class="b" cx="1248.0" cy="243.4" r="3.3"/>
<circle class="b" cx="1274.8" cy="242.7" r="3.3"/>
<circle class="b" cx="827.2" cy="262.3" r="3.3"/>
<circle class="b" cx="860.0" cy="260.7" r="3.3"/>
<circle class="b" cx="886.0" cy="263.4" r="3.3"/>
<circle class="b" cx="886.7" cy="262.3" r="3.3"/>
<circle class="b" cx="887.8" cy="261.0" r="3.3"/>
<circle class="b" cx="886.5" cy="262.8" r="3.3"/>
<circle class="b" cx="911.2" cy="260.4" r="3.3"/>
<circle class="b" cx="915.4" cy="261.6" r="3.3"/>
<circle class="b" cx="969.4" cy="260.5" r="3.3"/>
<circle class="b" cx="968.3" cy="263.8" r="3.3"/>
<circle class="b" cx="995.2" cy="263.2" r="3.3"/>
<circle class="b" cx="999.4" cy="262.1" r="3.3"/>
<circle class="b" cx="1026.6" cy="263.5" r="3.3"/>
<circle class="b" cx="1055.2" cy="260.9" r="3.3"/>
<circle class="b" cx="1081.1" cy="261.7" r="3.3"/>
<circle class="b" cx="1081.5" cy="263.6" r="3.3"/>
<circle class="b" cx="1078.8" cy="261.8" r="3.3"/>
<circle class="b" cx="1078.1" cy="263.9" r="3.3"/>
<circle class="b" cx="1109.8" cy="261.4" r="3.3"/>
<circle class="b" cx="1110.8" cy="261.1" r="3.3"/>
<circle class="b" cx="1136.8" cy="262.8" r="3.3"/>
<circle class="b" cx="860.3" cy="283.2" r="3.3"/>
<circle class="b" cx="886.8" cy="283.2" r="3.3"/>
<circle class="b" cx="943.9" cy="281.2" r="3.3"/>
<circle class="b" cx="939.8" cy="280.8" r="3.3"/>
<circle class="b" cx="970.1" cy="281.9" r="3.3"/>
<circle class="b" cx="966.3" cy="282.2" r="3.3"/>
<circle class="b" cx="968.3" cy="283.4" r="3.3"/>
<circle class="b" cx="998.5" cy="281.4" r="3.3"/>
<circle class="b" cx="1025.9" cy="282.1" r="3.3"/>
<circle class="b" cx="1054.6" cy="281.8" r="3.3"/>
<circle class="b" cx="1053.9" cy="282.3" r="3.3"/>
<circle class="b" cx="1054.6" cy="282.2" r="3.3"/>
<circle class="b" cx="1081.8" cy="282.6" r="3.3"/>
<circle class="b" cx="1107.1" cy="281.4" r="3.3"/>
<circle class="b" cx="1135.1" cy="281.3" r="3.3"/>
<circle class="b" cx="1164.7" cy="283.1" r="3.3"/>
<circle class="b" cx="1167.1" cy="281.3" r="3.3"/>
<circle class="b" cx="1165.4" cy="281.8" r="3.3"/>
<circle class="b" cx="1218.0" cy="280.9" r="3.3"/>
<circle class="b" cx="1251.5" cy="282.1" r="3.3"/>
<circle class="b" cx="1304.3" cy="282.3" r="3.3"/>
<circle class="b" cx="858.4" cy="300.5" r="3.3"/>
<circle class="b" cx="885.4" cy="301.6" r="3.3"/>
<circle class="b" cx="938.4" cy="300.2" r="3.3"/>
<circle class="b" cx="971.5" cy="301.2" r="3.3"/>
<circle class="b" cx="995.4" cy="301.4" r="3.3"/>
<circle class="b" cx="1027.4" cy="301.2" r="3.3"/>
<circle class="b" cx="1053.6" cy="302.6" r="3.3"/>
<circle class="b" cx="1053.0" cy="301.0" r="3.3"/>
<circle class="b" cx="1079.8" cy="300.6" r="3.3"/>
<circle class="b" cx="1080.3" cy="300.3" r="3.3"/>
<circle class="b" cx="1110.2" cy="300.8" r="3.3"/>
<circle class="b" cx="1109.8" cy="300.8" r="3.3"/>
<circle class="b" cx="1164.7" cy="301.4" r="3.3"/>
<circle class="b" cx="1164.7" cy="302.5" r="3.3"/>
<circle class="b" cx="1165.6" cy="301.5" r="3.3"/>
<circle class="b" cx="1163.8" cy="299.2" r="3.3"/>
<circle class="b" cx="1194.3" cy="300.5" r="3.3"/>
<circle class="b" cx="1219.8" cy="300.3" r="3.3"/>
<circle class="b" cx="832.4" cy="320.5" r="3.3"/>
<circle class="b" cx="884.7" cy="320.2" r="3.3"/>
<circle class="b" cx="911.7" cy="321.4" r="3.3"/>
<circle class="b" cx="941.9" cy="319.5" r="3.3"/>
<circle class="b" cx="967.4" cy="320.8" r="3.3"/>
<circle class="b" cx="966.6" cy="321.2" r="3.3"/>
<circle class="b" cx="996.1" cy="318.6" r="3.3"/>
<circle class="b" cx="1024.0" cy="319.6" r="3.3"/>
<circle class="b" cx="1027.3" cy="320.3" r="3.3"/>
<circle class="b" cx="1024.6" cy="320.5" r="3.3"/>
<circle class="b" cx="1025.4" cy="320.6" r="3.3"/>
<circle class="b" cx="1052.2" cy="318.9" r="3.3"/>
<circle class="b" cx="1052.3" cy="318.6" r="3.3"/>
<circle class="b" cx="1082.4" cy="322.0" r="3.3"/>
<circle class="b" cx="1080.4" cy="318.8" r="3.3"/>
<circle class="b" cx="1080.8" cy="320.1" r="3.3"/>
<circle class="b" cx="1108.7" cy="321.9" r="3.3"/>
<circle class="b" cx="1109.2" cy="321.5" r="3.3"/>
<circle class="b" cx="1106.2" cy="319.9" r="3.3"/>
<circle class="b" cx="1106.6" cy="318.9" r="3.3"/>
<circle class="b" cx="1163.6" cy="320.7" r="3.3"/>
<circle class="b" cx="1250.1" cy="321.6" r="3.3"/>
<circle class="b" cx="1306.2" cy="321.6" r="3.3"/>
<circle class="b" cx="885.6" cy="338.8" r="3.3"/>
<circle class="b" cx="914.7" cy="339.3" r="3.3"/>
<circle class="b" cx="941.2" cy="340.9" r="3.3"/>
<circle class="b" cx="938.9" cy="340.5" r="3.3"/>
<circle class="b" cx="943.5" cy="339.2" r="3.3"/>
<circle class="b" cx="968.7" cy="340.8" r="3.3"/>
<circle class="b" cx="967.5" cy="338.2" r="3.3"/>
<circle class="b" cx="996.0" cy="339.9" r="3.3"/>
<circle class="b" cx="999.7" cy="340.3" r="3.3"/>
<circle class="b" cx="1027.1" cy="340.1" r="3.3"/>
<circle class="b" cx="1026.3" cy="341.0" r="3.3"/>
<circle class="b" cx="1025.3" cy="338.4" r="3.3"/>
<circle class="b" cx="1026.8" cy="340.6" r="3.3"/>
<circle class="b" cx="1054.6" cy="340.0" r="3.3"/>
<circle class="b" cx="1051.8" cy="340.0" r="3.3"/>
<circle class="b" cx="1053.6" cy="338.4" r="3.3"/>
<circle class="b" cx="1079.6" cy="338.4" r="3.3"/>
<circle class="b" cx="1082.2" cy="338.4" r="3.3"/>
<circle class="b" cx="1107.5" cy="340.3" r="3.3"/>
<circle class="b" cx="1111.3" cy="340.6" r="3.3"/>
<circle class="b" cx="1111.2" cy="340.2" r="3.3"/>
<circle class="b" cx="1109.7" cy="341.0" r="3.3"/>
<circle class="b" cx="1138.0" cy="338.3" r="3.3"/>
<circle class="b" cx="1138.3" cy="340.5" r="3.3"/>
<circle class="b" cx="1138.2" cy="339.0" r="3.3"/>
<circle class="b" cx="1163.6" cy="339.5" r="3.3"/>
<circle class="b" cx="1194.3" cy="339.5" r="3.3"/>
<circle class="b" cx="1194.8" cy="339.8" r="3.3"/>
<circle class="b" cx="1222.7" cy="340.5" r="3.3"/>
<circle class="b" cx="1246.9" cy="340.7" r="3.3"/>
<circle class="b" cx="1250.1" cy="339.5" r="3.3"/>
<circle class="b" cx="1276.6" cy="337.9" r="3.3"/>
<circle class="b" cx="828.6" cy="359.1" r="3.3"/>
<circle class="b" cx="855.8" cy="358.4" r="3.3"/>
<circle class="b" cx="856.3" cy="358.9" r="3.3"/>
<circle class="b" cx="911.0" cy="359.4" r="3.3"/>
<circle class="b" cx="913.4" cy="359.1" r="3.3"/>
<circle class="b" cx="912.3" cy="359.5" r="3.3"/>
<circle class="b" cx="913.1" cy="357.6" r="3.3"/>
<circle class="b" cx="942.4" cy="360.5" r="3.3"/>
<circle class="b" cx="997.4" cy="358.6" r="3.3"/>
<circle class="b" cx="994.3" cy="360.4" r="3.3"/>
<circle class="b" cx="995.9" cy="359.7" r="3.3"/>
<circle class="b" cx="1023.9" cy="359.2" r="3.3"/>
<circle class="b" cx="1022.2" cy="359.8" r="3.3"/>
<circle class="b" cx="1052.6" cy="358.1" r="3.3"/>
<circle class="b" cx="1083.1" cy="360.3" r="3.3"/>
<circle class="b" cx="1078.6" cy="357.4" r="3.3"/>
<circle class="b" cx="1082.1" cy="360.5" r="3.3"/>
<circle class="b" cx="1111.3" cy="359.8" r="3.3"/>
<circle class="b" cx="1110.0" cy="357.8" r="3.3"/>
<circle class="b" cx="1162.0" cy="359.9" r="3.3"/>
<circle class="b" cx="1164.9" cy="356.9" r="3.3"/>
<circle class="b" cx="1163.1" cy="358.4" r="3.3"/>
<circle class="b" cx="1218.0" cy="358.6" r="3.3"/>
<circle class="b" cx="1221.3" cy="357.5" r="3.3"/>
<circle class="b" cx="912.9" cy="377.9" r="3.3"/>
<circle class="b" cx="914.1" cy="379.4" r="3.3"/>
<circle class="b" cx="914.5" cy="376.8" r="3.3"/>
<circle class="b" cx="915.2" cy="378.8" r="3.3"/>
<circle class="b" cx="911.7" cy="379.3" r="3.3"/>
<circle class="b" cx="942.9" cy="379.0" r="3.3"/>
<circle class="b" cx="943.4" cy="377.9" r="3.3"/>
<circle class="b" cx="940.0" cy="378.6" r="3.3"/>
<circle class="b" cx="942.5" cy="379.3" r="3.3"/>
<circle class="b" cx="940.4" cy="379.2" r="3.3"/>
<circle class="b" cx="967.5" cy="377.5" r="3.3"/>
<circle class="b" cx="971.5" cy="379.6" r="3.3"/>
<circle class="b" cx="995.5" cy="379.5" r="3.3"/>
<circle class="b" cx="996.2" cy="377.6" r="3.3"/>
<circle class="b" cx="996.3" cy="376.3" r="3.3"/>
<circle class="b" cx="1024.7" cy="377.4" r="3.3"/>
<circle class="b" cx="1025.6" cy="377.5" r="3.3"/>
<circle class="b" cx="1050.6" cy="377.3" r="3.3"/>
<circle class="b" cx="1082.6" cy="377.3" r="3.3"/>
<circle class="b" cx="1078.1" cy="378.2" r="3.3"/>
<circle class="b" cx="1080.8" cy="379.8" r="3.3"/>
<circle class="b" cx="1109.3" cy="378.0" r="3.3"/>
<circle class="b" cx="1110.8" cy="377.9" r="3.3"/>
<circle class="b" cx="1107.9" cy="379.7" r="3.3"/>
<circle class="b" cx="1109.1" cy="378.5" r="3.3"/>
<circle class="b" cx="1109.0" cy="378.6" r="3.3"/>
<circle class="b" cx="1136.8" cy="377.9" r="3.3"/>
<circle class="b" cx="1163.7" cy="377.7" r="3.3"/>
<circle class="b" cx="1165.1" cy="378.6" r="3.3"/>
<circle class="b" cx="1166.3" cy="378.6" r="3.3"/>
<circle class="b" cx="1194.3" cy="379.1" r="3.3"/>
<circle class="b" cx="1220.4" cy="377.3" r="3.3"/>
<circle class="b" cx="1250.1" cy="379.1" r="3.3"/>
<circle class="b" cx="802.1" cy="396.1" r="3.3"/>
<circle class="b" cx="859.1" cy="395.4" r="3.3"/>
<circle class="b" cx="914.9" cy="398.9" r="3.3"/>
<circle class="b" cx="966.8" cy="397.5" r="3.3"/>
<circle class="b" cx="999.7" cy="398.2" r="3.3"/>
<circle class="b" cx="995.9" cy="398.7" r="3.3"/>
<circle class="b" cx="995.2" cy="396.1" r="3.3"/>
<circle class="b" cx="994.8" cy="396.3" r="3.3"/>
<circle class="b" cx="996.5" cy="395.8" r="3.3"/>
<circle class="b" cx="1022.2" cy="396.8" r="3.3"/>
<circle class="b" cx="1023.6" cy="399.1" r="3.3"/>
<circle class="b" cx="1054.0" cy="395.9" r="3.3"/>
<circle class="b" cx="1050.4" cy="398.2" r="3.3"/>
<circle class="b" cx="1083.0" cy="396.4" r="3.3"/>
<circle class="b" cx="1083.3" cy="396.5" r="3.3"/>
<circle class="b" cx="1080.1" cy="397.2" r="3.3"/>
<circle class="b" cx="1109.9" cy="398.1" r="3.3"/>
<circle class="b" cx="1106.9" cy="397.8" r="3.3"/>
<circle class="b" cx="1110.1" cy="398.3" r="3.3"/>
<circle class="b" cx="1109.0" cy="396.0" r="3.3"/>
<circle class="b" cx="1138.6" cy="395.4" r="3.3"/>
<circle class="b" cx="1195.0" cy="396.5" r="3.3"/>
<circle class="b" cx="1218.7" cy="397.9" r="3.3"/>
<circle class="b" cx="1218.2" cy="395.4" r="3.3"/>
<circle class="b" cx="1247.6" cy="397.9" r="3.3"/>
<circle class="b" cx="1251.3" cy="395.1" r="3.3"/>
<circle class="b" cx="1278.7" cy="397.7" r="3.3"/>
<circle class="b" cx="885.6" cy="417.2" r="3.3"/>
<circle class="b" cx="916.0" cy="414.8" r="3.3"/>
<circle class="b" cx="942.9" cy="416.0" r="3.3"/>
<circle class="b" cx="939.6" cy="417.6" r="3.3"/>
<circle class="b" cx="971.8" cy="418.1" r="3.3"/>
<circle class="b" cx="969.5" cy="414.8" r="3.3"/>
<circle class="b" cx="971.1" cy="418.4" r="3.3"/>
<circle class="b" cx="997.7" cy="416.2" r="3.3"/>
<circle class="b" cx="996.0" cy="416.1" r="3.3"/>
<circle class="b" cx="994.9" cy="416.5" r="3.3"/>
<circle class="b" cx="1026.7" cy="416.7" r="3.3"/>
<circle class="b" cx="1026.4" cy="417.0" r="3.3"/>
<circle class="b" cx="1026.4" cy="418.2" r="3.3"/>
<circle class="b" cx="1053.9" cy="415.1" r="3.3"/>
<circle class="b" cx="1053.3" cy="416.8" r="3.3"/>
<circle class="b" cx="1050.8" cy="417.0" r="3.3"/>
<circle class="b" cx="1054.9" cy="416.7" r="3.3"/>
<circle class="b" cx="1107.5" cy="418.2" r="3.3"/>
<circle class="b" cx="1107.3" cy="416.4" r="3.3"/>
<circle class="b" cx="1111.1" cy="415.2" r="3.3"/>
<circle class="b" cx="1138.4" cy="417.7" r="3.3"/>
<circle class="b" cx="1162.1" cy="418.1" r="3.3"/>
<circle class="b" cx="1246.4" cy="416.9" r="3.3"/>
<circle class="b" cx="1278.2" cy="415.3" r="3.3"/>
<circle class="b" cx="827.7" cy="433.8" r="3.3"/>
<circle class="b" cx="829.0" cy="437.5" r="3.3"/>
<circle class="b" cx="856.1" cy="437.2" r="3.3"/>
<circle class="b" cx="885.0" cy="437.2" r="3.3"/>
<circle class="b" cx="910.8" cy="435.9" r="3.3"/>
<circle class="b" cx="943.1" cy="435.9" r="3.3"/>
<circle class="b" cx="971.3" cy="434.6" r="3.3"/>
<circle class="b" cx="995.5" cy="435.7" r="3.3"/>
<circle class="b" cx="996.0" cy="435.9" r="3.3"/>
<circle class="b" cx="1025.7" cy="434.6" r="3.3"/>
<circle class="b" cx="1053.6" cy="436.0" r="3.3"/>
<circle class="b" cx="1054.4" cy="436.9" r="3.3"/>
<circle class="b" cx="1081.2" cy="436.1" r="3.3"/>
<circle class="b" cx="1078.8" cy="434.0" r="3.3"/>
<circle class="b" cx="1138.8" cy="437.1" r="3.3"/>
<circle class="b" cx="1134.4" cy="435.9" r="3.3"/>
<circle class="b" cx="1138.5" cy="437.1" r="3.3"/>
<circle class="b" cx="1164.6" cy="435.1" r="3.3"/>
<circle class="b" cx="1218.5" cy="434.4" r="3.3"/>
<circle class="b" cx="1221.7" cy="435.4" r="3.3"/>
<circle class="b" cx="1223.0" cy="436.1" r="3.3"/>
<circle class="b" cx="858.5" cy="454.7" r="3.3"/>
<circle class="b" cx="910.8" cy="453.9" r="3.3"/>
<circle class="b" cx="939.2" cy="456.0" r="3.3"/>
<circle class="b" cx="971.3" cy="456.8" r="3.3"/>
<circle class="b" cx="997.1" cy="453.4" r="3.3"/>
<circle class="b" cx="998.4" cy="456.0" r="3.3"/>
<circle class="b" cx="1025.2" cy="455.2" r="3.3"/>
<circle class="b" cx="1050.7" cy="454.9" r="3.3"/>
<circle class="b" cx="1054.4" cy="456.2" r="3.3"/>
<circle class="b" cx="1078.4" cy="455.7" r="3.3"/>
<circle class="b" cx="1107.7" cy="454.2" r="3.3"/>
<circle class="b" cx="1108.1" cy="455.5" r="3.3"/>
<circle class="b" cx="1136.2" cy="453.3" r="3.3"/>
<circle class="b" cx="1137.4" cy="453.4" r="3.3"/>
<circle class="b" cx="1139.1" cy="454.0" r="3.3"/>
<circle class="b" cx="1161.9" cy="456.4" r="3.3"/>
<circle class="b" cx="1190.7" cy="456.0" r="3.3"/>
<circle class="b" cx="1194.6" cy="454.2" r="3.3"/>
<circle class="b" cx="856.6" cy="473.7" r="3.3"/>
<circle class="b" cx="886.6" cy="475.0" r="3.3"/>
<circle class="b" cx="887.1" cy="475.5" r="3.3"/>
<circle class="b" cx="913.7" cy="474.8" r="3.3"/>
<circle class="b" cx="912.9" cy="474.2" r="3.3"/>
<circle class="b" cx="941.3" cy="473.3" r="3.3"/>
<circle class="b" cx="940.0" cy="473.6" r="3.3"/>
<circle class="b" cx="941.7" cy="473.5" r="3.3"/>
<circle class="b" cx="967.1" cy="475.8" r="3.3"/>
<circle class="b" cx="967.6" cy="476.3" r="3.3"/>
<circle class="b" cx="996.8" cy="476.0" r="3.3"/>
<circle class="b" cx="1054.1" cy="473.0" r="3.3"/>
<circle class="b" cx="1051.0" cy="475.9" r="3.3"/>
<circle class="b" cx="1052.3" cy="474.4" r="3.3"/>
<circle class="b" cx="1054.1" cy="475.2" r="3.3"/>
<circle class="b" cx="1081.3" cy="475.2" r="3.3"/>
<circle class="b" cx="1082.5" cy="476.0" r="3.3"/>
<circle class="b" cx="1109.1" cy="474.5" r="3.3"/>
<circle class="b" cx="1109.7" cy="475.0" r="3.3"/>
<circle class="b" cx="1135.2" cy="472.6" r="3.3"/>
<circle class="b" cx="1136.2" cy="476.3" r="3.3"/>
<circle class="b" cx="1164.2" cy="474.8" r="3.3"/>
<circle class="b" cx="1166.4" cy="473.0" r="3.3"/>
<circle class="b" cx="1164.3" cy="476.3" r="3.3"/>
<circle class="b" cx="856.9" cy="492.4" r="3.3"/>
<circle class="b" cx="915.5" cy="495.0" r="3.3"/>
<circle class="b" cx="971.8" cy="495.3" r="3.3"/>
<circle class="b" cx="970.9" cy="493.4" r="3.3"/>
<circle class="b" cx="998.1" cy="494.5" r="3.3"/>
<circle class="b" cx="1024.7" cy="492.4" r="3.3"/>
<circle class="b" cx="1025.4" cy="494.3" r="3.3"/>
<circle class="b" cx="1052.8" cy="495.0" r="3.3"/>
<circle class="b" cx="1079.9" cy="492.7" r="3.3"/>
<circle class="b" cx="1106.0" cy="492.7" r="3.3"/>
<circle class="b" cx="1164.1" cy="494.2" r="3.3"/>
<circle class="b" cx="1162.0" cy="493.9" r="3.3"/>
<circle class="b" cx="1190.3" cy="492.3" r="3.3"/>
<circle class="b" cx="1191.1" cy="495.3" r="3.3"/>
<circle class="b" cx="800.4" cy="511.4" r="3.3"/>
<circle class="b" cx="803.2" cy="513.5" r="3.3"/>
<circle class="b" cx="856.6" cy="514.1" r="3.3"/>
<circle class="b" cx="940.3" cy="512.2" r="3.3"/>
<circle class="b" cx="971.4" cy="514.2" r="3.3"/>
<circle class="b" cx="966.8" cy="511.7" r="3.3"/>
<circle class="b" cx="968.3" cy="514.5" r="3.3"/>
<circle class="b" cx="971.6" cy="513.1" r="3.3"/>
<circle class="b" cx="995.8" cy="511.7" r="3.3"/>
<circle class="b" cx="1024.7" cy="511.2" r="3.3"/>
<circle class="b" cx="1023.6" cy="514.3" r="3.3"/>
<circle class="b" cx="1081.0" cy="513.0" r="3.3"/>
<circle class="b" cx="1080.3" cy="514.1" r="3.3"/>
<circle class="b" cx="1109.1" cy="512.0" r="3.3"/>
<circle class="b" cx="1134.9" cy="511.7" r="3.3"/>
<circle class="b" cx="1163.6" cy="511.5" r="3.3"/>
<circle class="b" cx="1165.7" cy="514.1" r="3.3"/>
<circle class="b" cx="1274.8" cy="514.6" r="3.3"/>
<circle class="b" cx="913.7" cy="531.0" r="3.3"/>
<circle class="b" cx="914.5" cy="532.6" r="3.3"/>
<circle class="b" cx="971.8" cy="533.6" r="3.3"/>
<circle class="b" cx="1024.9" cy="533.9" r="3.3"/>
<circle class="b" cx="1139.4" cy="531.3" r="3.3"/>
<circle class="b" cx="1165.9" cy="531.5" r="3.3"/>
<circle class="b" cx="1194.8" cy="532.6" r="3.3"/>
<circle class="b" cx="1277.7" cy="532.8" r="3.3"/>
<circle class="b" cx="1109.1" cy="549.8" r="3.3"/>
<circle class="b" cx="1110.7" cy="551.1" r="3.3"/>
<circle class="b" cx="1277.2" cy="551.8" r="3.3"/>
<circle class="b" cx="996.3" cy="569.6" r="3.3"/>
<circle class="m" cx="940.3" cy="128.5" r="3.3"/>
<circle class="m" cx="1078.9" cy="148.5" r="3.3"/>
<circle class="m" cx="801.2" cy="164.5" r="3.3"/>
<circle class="m" cx="968.4" cy="167.3" r="3.3"/>
<circle class="m" cx="969.6" cy="164.3" r="3.3"/>
<circle class="m" cx="997.3" cy="166.9" r="3.3"/>
<circle class="m" cx="1080.3" cy="165.0" r="3.3"/>
<circle class="m" cx="829.3" cy="183.4" r="3.3"/>
<circle class="m" cx="1022.9" cy="186.2" r="3.3"/>
<circle class="m" cx="1024.5" cy="186.4" r="3.3"/>
<circle class="m" cx="1054.5" cy="184.1" r="3.3"/>
<circle class="m" cx="1055.5" cy="186.4" r="3.3"/>
<circle class="m" cx="1083.3" cy="186.7" r="3.3"/>
<circle class="m" cx="857.0" cy="203.4" r="3.3"/>
<circle class="m" cx="943.8" cy="203.4" r="3.3"/>
<circle class="m" cx="1054.1" cy="204.1" r="3.3"/>
<circle class="m" cx="1110.1" cy="206.4" r="3.3"/>
<circle class="m" cx="1166.4" cy="204.5" r="3.3"/>
<circle class="m" cx="883.8" cy="222.9" r="3.3"/>
<circle class="m" cx="995.7" cy="225.5" r="3.3"/>
<circle class="m" cx="1134.3" cy="224.8" r="3.3"/>
<circle class="m" cx="1165.2" cy="222.0" r="3.3"/>
<circle class="m" cx="827.2" cy="242.7" r="3.3"/>
<circle class="m" cx="830.0" cy="244.8" r="3.3"/>
<circle class="m" cx="911.4" cy="244.3" r="3.3"/>
<circle class="m" cx="943.9" cy="241.9" r="3.3"/>
<circle class="m" cx="942.4" cy="241.5" r="3.3"/>
<circle class="m" cx="1027.8" cy="244.5" r="3.3"/>
<circle class="m" cx="1027.2" cy="243.3" r="3.3"/>
<circle class="m" cx="1024.6" cy="242.8" r="3.3"/>
<circle class="m" cx="1054.8" cy="243.2" r="3.3"/>
<circle class="m" cx="1108.5" cy="242.7" r="3.3"/>
<circle class="m" cx="1133.8" cy="242.5" r="3.3"/>
<circle class="m" cx="1166.8" cy="241.5" r="3.3"/>
<circle class="m" cx="1250.4" cy="243.6" r="3.3"/>
<circle class="m" cx="831.9" cy="260.4" r="3.3"/>
<circle class="m" cx="967.5" cy="260.6" r="3.3"/>
<circle class="m" cx="966.7" cy="262.6" r="3.3"/>
<circle class="m" cx="1024.0" cy="262.8" r="3.3"/>
<circle class="m" cx="1083.0" cy="263.7" r="3.3"/>
<circle class="m" cx="1163.1" cy="260.9" r="3.3"/>
<circle class="m" cx="1167.1" cy="263.7" r="3.3"/>
<circle class="m" cx="1223.4" cy="262.1" r="3.3"/>
<circle class="m" cx="1247.1" cy="260.7" r="3.3"/>
<circle class="m" cx="831.7" cy="282.1" r="3.3"/>
<circle class="m" cx="857.5" cy="280.2" r="3.3"/>
<circle class="m" cx="911.7" cy="282.5" r="3.3"/>
<circle class="m" cx="940.5" cy="281.8" r="3.3"/>
<circle class="m" cx="970.4" cy="280.3" r="3.3"/>
<circle class="m" cx="1026.6" cy="281.4" r="3.3"/>
<circle class="m" cx="1051.4" cy="281.8" r="3.3"/>
<circle class="m" cx="1080.3" cy="282.0" r="3.3"/>
<circle class="m" cx="1083.6" cy="283.1" r="3.3"/>
<circle class="m" cx="1078.6" cy="282.0" r="3.3"/>
<circle class="m" cx="1135.5" cy="280.6" r="3.3"/>
<circle class="m" cx="1137.3" cy="281.0" r="3.3"/>
<circle class="m" cx="1138.1" cy="281.5" r="3.3"/>
<circle class="m" cx="1136.4" cy="282.3" r="3.3"/>
<circle class="m" cx="1162.6" cy="279.7" r="3.3"/>
<circle class="m" cx="1162.9" cy="282.1" r="3.3"/>
<circle class="m" cx="1194.3" cy="281.4" r="3.3"/>
<circle class="m" cx="1219.0" cy="279.8" r="3.3"/>
<circle class="m" cx="1247.1" cy="283.2" r="3.3"/>
<circle class="m" cx="1273.9" cy="281.1" r="3.3"/>
<circle class="m" cx="915.9" cy="302.6" r="3.3"/>
<circle class="m" cx="1022.9" cy="300.9" r="3.3"/>
<circle class="m" cx="1024.9" cy="301.9" r="3.3"/>
<circle class="m" cx="1050.2" cy="301.5" r="3.3"/>
<circle class="m" cx="1051.8" cy="299.7" r="3.3"/>
<circle class="m" cx="1052.9" cy="299.8" r="3.3"/>
<circle class="m" cx="1078.7" cy="300.2" r="3.3"/>
<circle class="m" cx="1110.3" cy="300.8" r="3.3"/>
<circle class="m" cx="1109.6" cy="302.5" r="3.3"/>
<circle class="m" cx="1134.5" cy="299.1" r="3.3"/>
<circle class="m" cx="1139.4" cy="302.6" r="3.3"/>
<circle class="m" cx="1166.3" cy="301.1" r="3.3"/>
<circle class="m" cx="1221.9" cy="301.8" r="3.3"/>
<circle class="m" cx="1220.5" cy="301.8" r="3.3"/>
<circle class="m" cx="1222.0" cy="299.1" r="3.3"/>
<circle class="m" cx="885.2" cy="319.3" r="3.3"/>
<circle class="m" cx="914.7" cy="318.8" r="3.3"/>
<circle class="m" cx="969.6" cy="319.7" r="3.3"/>
<circle class="m" cx="1052.3" cy="320.1" r="3.3"/>
<circle class="m" cx="1081.5" cy="320.5" r="3.3"/>
<circle class="m" cx="1109.8" cy="318.4" r="3.3"/>
<circle class="m" cx="1165.2" cy="319.8" r="3.3"/>
<circle class="m" cx="1193.8" cy="321.9" r="3.3"/>
<circle class="m" cx="1219.4" cy="318.4" r="3.3"/>
<circle class="m" cx="1219.9" cy="321.6" r="3.3"/>
<circle class="m" cx="776.3" cy="340.7" r="3.3"/>
<circle class="m" cx="831.0" cy="340.0" r="3.3"/>
<circle class="m" cx="968.7" cy="340.2" r="3.3"/>
<circle class="m" cx="968.8" cy="337.8" r="3.3"/>
<circle class="m" cx="967.7" cy="341.3" r="3.3"/>
<circle class="m" cx="994.7" cy="337.9" r="3.3"/>
<circle class="m" cx="1053.7" cy="338.2" r="3.3"/>
<circle class="m" cx="1051.5" cy="340.8" r="3.3"/>
<circle class="m" cx="1051.7" cy="339.1" r="3.3"/>
<circle class="m" cx="1051.3" cy="340.6" r="3.3"/>
<circle class="m" cx="1106.3" cy="337.9" r="3.3"/>
<circle class="m" cx="1134.7" cy="340.7" r="3.3"/>
<circle class="m" cx="1135.8" cy="339.1" r="3.3"/>
<circle class="m" cx="942.2" cy="360.2" r="3.3"/>
<circle class="m" cx="969.0" cy="360.2" r="3.3"/>
<circle class="m" cx="967.2" cy="357.4" r="3.3"/>
<circle class="m" cx="969.0" cy="359.2" r="3.3"/>
<circle class="m" cx="969.2" cy="357.4" r="3.3"/>
<circle class="m" cx="968.4" cy="359.3" r="3.3"/>
<circle class="m" cx="999.5" cy="359.4" r="3.3"/>
<circle class="m" cx="997.2" cy="358.1" r="3.3"/>
<circle class="m" cx="1024.0" cy="360.6" r="3.3"/>
<circle class="m" cx="1025.6" cy="356.9" r="3.3"/>
<circle class="m" cx="1023.1" cy="358.2" r="3.3"/>
<circle class="m" cx="1052.1" cy="358.8" r="3.3"/>
<circle class="m" cx="1050.2" cy="358.9" r="3.3"/>
<circle class="m" cx="1079.6" cy="358.1" r="3.3"/>
<circle class="m" cx="1078.2" cy="359.8" r="3.3"/>
<circle class="m" cx="1109.5" cy="357.7" r="3.3"/>
<circle class="m" cx="859.8" cy="378.4" r="3.3"/>
<circle class="m" cx="860.0" cy="378.9" r="3.3"/>
<circle class="m" cx="997.6" cy="378.4" r="3.3"/>
<circle class="m" cx="999.6" cy="378.3" r="3.3"/>
<circle class="m" cx="1025.0" cy="377.9" r="3.3"/>
<circle class="m" cx="1054.7" cy="376.9" r="3.3"/>
<circle class="m" cx="1052.3" cy="379.3" r="3.3"/>
<circle class="m" cx="1054.9" cy="377.2" r="3.3"/>
<circle class="m" cx="1055.5" cy="376.4" r="3.3"/>
<circle class="m" cx="1051.6" cy="376.1" r="3.3"/>
<circle class="m" cx="1055.4" cy="377.5" r="3.3"/>
<circle class="m" cx="1079.7" cy="377.4" r="3.3"/>
<circle class="m" cx="1082.5" cy="378.7" r="3.3"/>
<circle class="m" cx="1136.6" cy="378.7" r="3.3"/>
<circle class="m" cx="1134.9" cy="378.5" r="3.3"/>
<circle class="m" cx="1138.6" cy="378.1" r="3.3"/>
<circle class="m" cx="1134.0" cy="377.8" r="3.3"/>
<circle class="m" cx="1195.5" cy="377.7" r="3.3"/>
<circle class="m" cx="1220.1" cy="378.1" r="3.3"/>
<circle class="m" cx="1220.1" cy="379.8" r="3.3"/>
<circle class="m" cx="1247.6" cy="376.8" r="3.3"/>
<circle class="m" cx="1306.0" cy="378.9" r="3.3"/>
<circle class="m" cx="941.0" cy="398.4" r="3.3"/>
<circle class="m" cx="942.2" cy="396.5" r="3.3"/>
<circle class="m" cx="1052.2" cy="397.6" r="3.3"/>
<circle class="m" cx="1106.9" cy="398.2" r="3.3"/>
<circle class="m" cx="1106.8" cy="395.8" r="3.3"/>
<circle class="m" cx="1111.5" cy="396.3" r="3.3"/>
<circle class="m" cx="1138.2" cy="397.7" r="3.3"/>
<circle class="m" cx="1135.1" cy="396.7" r="3.3"/>
<circle class="m" cx="1135.2" cy="396.3" r="3.3"/>
<circle class="m" cx="1137.2" cy="396.0" r="3.3"/>
<circle class="m" cx="1136.0" cy="398.0" r="3.3"/>
<circle class="m" cx="1139.0" cy="396.7" r="3.3"/>
<circle class="m" cx="1165.4" cy="398.9" r="3.3"/>
<circle class="m" cx="1219.6" cy="396.9" r="3.3"/>
<circle class="m" cx="1222.3" cy="396.4" r="3.3"/>
<circle class="m" cx="1218.9" cy="396.5" r="3.3"/>
<circle class="m" cx="943.2" cy="417.5" r="3.3"/>
<circle class="m" cx="970.0" cy="416.3" r="3.3"/>
<circle class="m" cx="1025.1" cy="417.9" r="3.3"/>
<circle class="m" cx="1027.0" cy="415.5" r="3.3"/>
<circle class="m" cx="1052.4" cy="417.3" r="3.3"/>
<circle class="m" cx="1053.7" cy="416.2" r="3.3"/>
<circle class="m" cx="1051.2" cy="415.9" r="3.3"/>
<circle class="m" cx="1080.4" cy="416.6" r="3.3"/>
<circle class="m" cx="1083.5" cy="416.9" r="3.3"/>
<circle class="m" cx="1107.6" cy="416.0" r="3.3"/>
<circle class="m" cx="1107.4" cy="415.9" r="3.3"/>
<circle class="m" cx="1139.4" cy="418.5" r="3.3"/>
<circle class="m" cx="1135.1" cy="417.6" r="3.3"/>
<circle class="m" cx="1134.9" cy="415.5" r="3.3"/>
<circle class="m" cx="1163.7" cy="417.0" r="3.3"/>
<circle class="m" cx="1167.0" cy="415.5" r="3.3"/>
<circle class="m" cx="1162.5" cy="418.1" r="3.3"/>
<circle class="m" cx="1162.3" cy="415.7" r="3.3"/>
<circle class="m" cx="1192.2" cy="416.6" r="3.3"/>
<circle class="m" cx="1249.8" cy="416.9" r="3.3"/>
<circle class="m" cx="1332.1" cy="415.9" r="3.3"/>
<circle class="m" cx="884.8" cy="436.7" r="3.3"/>
<circle class="m" cx="915.1" cy="437.1" r="3.3"/>
<circle class="m" cx="911.4" cy="435.1" r="3.3"/>
<circle class="m" cx="1023.5" cy="435.3" r="3.3"/>
<circle class="m" cx="1023.7" cy="434.3" r="3.3"/>
<circle class="m" cx="1022.5" cy="434.4" r="3.3"/>
<circle class="m" cx="1024.2" cy="437.5" r="3.3"/>
<circle class="m" cx="1050.7" cy="437.1" r="3.3"/>
<circle class="m" cx="1050.9" cy="434.1" r="3.3"/>
<circle class="m" cx="1078.2" cy="437.4" r="3.3"/>
<circle class="m" cx="1079.5" cy="436.0" r="3.3"/>
<circle class="m" cx="1110.2" cy="434.3" r="3.3"/>
<circle class="m" cx="1107.3" cy="434.4" r="3.3"/>
<circle class="m" cx="1111.4" cy="436.7" r="3.3"/>
<circle class="m" cx="1134.1" cy="436.3" r="3.3"/>
<circle class="m" cx="1138.6" cy="435.7" r="3.3"/>
<circle class="m" cx="1163.6" cy="434.6" r="3.3"/>
<circle class="m" cx="1162.5" cy="434.4" r="3.3"/>
<circle class="m" cx="1165.2" cy="437.5" r="3.3"/>
<circle class="m" cx="1167.2" cy="436.5" r="3.3"/>
<circle class="m" cx="1220.4" cy="437.7" r="3.3"/>
<circle class="m" cx="1250.8" cy="433.8" r="3.3"/>
<circle class="m" cx="1273.5" cy="437.5" r="3.3"/>
<circle class="m" cx="939.7" cy="453.1" r="3.3"/>
<circle class="m" cx="967.4" cy="455.7" r="3.3"/>
<circle class="m" cx="1082.8" cy="455.7" r="3.3"/>
<circle class="m" cx="1081.7" cy="456.8" r="3.3"/>
<circle class="m" cx="1106.5" cy="454.8" r="3.3"/>
<circle class="m" cx="1136.9" cy="454.1" r="3.3"/>
<circle class="m" cx="1137.8" cy="456.3" r="3.3"/>
<circle class="m" cx="1136.9" cy="454.8" r="3.3"/>
<circle class="m" cx="1136.6" cy="454.5" r="3.3"/>
<circle class="m" cx="1162.7" cy="454.3" r="3.3"/>
<circle class="m" cx="1165.4" cy="453.4" r="3.3"/>
<circle class="m" cx="1220.1" cy="456.2" r="3.3"/>
<circle class="m" cx="1223.2" cy="454.4" r="3.3"/>
<circle class="m" cx="1249.3" cy="455.2" r="3.3"/>
<circle class="m" cx="1302.7" cy="454.4" r="3.3"/>
<circle class="m" cx="912.5" cy="473.6" r="3.3"/>
<circle class="m" cx="994.7" cy="472.6" r="3.3"/>
<circle class="m" cx="997.7" cy="475.3" r="3.3"/>
<circle class="m" cx="1027.5" cy="475.0" r="3.3"/>
<circle class="m" cx="1081.4" cy="475.6" r="3.3"/>
<circle class="m" cx="1166.1" cy="474.9" r="3.3"/>
<circle class="m" cx="1166.8" cy="474.6" r="3.3"/>
<circle class="m" cx="1193.7" cy="473.8" r="3.3"/>
<circle class="m" cx="1190.5" cy="474.1" r="3.3"/>
<circle class="m" cx="1194.9" cy="472.8" r="3.3"/>
<circle class="m" cx="1195.0" cy="473.5" r="3.3"/>
<circle class="m" cx="1219.5" cy="473.9" r="3.3"/>
<circle class="m" cx="1221.4" cy="474.1" r="3.3"/>
<circle class="m" cx="1220.6" cy="473.4" r="3.3"/>
<circle class="m" cx="1219.0" cy="473.6" r="3.3"/>
<circle class="m" cx="966.5" cy="494.6" r="3.3"/>
<circle class="m" cx="1054.9" cy="495.6" r="3.3"/>
<circle class="m" cx="1083.8" cy="493.5" r="3.3"/>
<circle class="m" cx="1111.7" cy="492.7" r="3.3"/>
<circle class="m" cx="1138.8" cy="494.3" r="3.3"/>
<circle class="m" cx="1167.3" cy="493.5" r="3.3"/>
<circle class="m" cx="1165.6" cy="494.7" r="3.3"/>
<circle class="m" cx="1191.3" cy="495.5" r="3.3"/>
<circle class="m" cx="1193.7" cy="494.4" r="3.3"/>
<circle class="m" cx="1194.3" cy="495.4" r="3.3"/>
<circle class="m" cx="1222.2" cy="492.4" r="3.3"/>
<circle class="m" cx="1274.0" cy="492.2" r="3.3"/>
<circle class="m" cx="1305.3" cy="491.9" r="3.3"/>
<circle class="m" cx="803.4" cy="513.9" r="3.3"/>
<circle class="m" cx="799.6" cy="511.7" r="3.3"/>
<circle class="m" cx="941.6" cy="513.5" r="3.3"/>
<circle class="m" cx="996.0" cy="512.2" r="3.3"/>
<circle class="m" cx="1082.7" cy="511.4" r="3.3"/>
<circle class="m" cx="1081.2" cy="513.9" r="3.3"/>
<circle class="m" cx="1083.2" cy="514.1" r="3.3"/>
<circle class="m" cx="1139.6" cy="514.1" r="3.3"/>
<circle class="m" cx="1192.8" cy="514.3" r="3.3"/>
<circle class="m" cx="1275.1" cy="514.8" r="3.3"/>
<circle class="m" cx="1110.7" cy="532.0" r="3.3"/>
<circle class="m" cx="1136.5" cy="533.9" r="3.3"/>
<circle class="m" cx="1165.7" cy="533.3" r="3.3"/>
<circle class="m" cx="1251.1" cy="533.1" r="3.3"/>
<circle class="m" cx="1025.4" cy="550.8" r="3.3"/>
<circle class="m" cx="1054.4" cy="552.6" r="3.3"/>
<circle class="m" cx="1080.4" cy="551.8" r="3.3"/>
<circle class="m" cx="1083.5" cy="549.5" r="3.3"/>
<circle class="m" cx="1137.3" cy="550.5" r="3.3"/>
<circle class="m" cx="997.3" cy="570.6" r="3.3"/>
</g>
<rect x="64.7" y="56.5" width="668.10" height="19.30" style="fill:#ffe5cc" class="k"/>
<rect x="732.8" y="56.5" width="668.50" height="19.30" style="fill:#ffe5cc" class="k"/>
<rect x="64.7" y="75.8" width="668.10" height="527.50" class="k"/>
<rect x="732.8" y="75.8" width="668.50" height="527.50" class="k"/>
<line class="k" x1="189.40" x2="189.40" y1="56.5" y2="48.9"/>
<line class="k" x1="189.40" x2="189.40" y1="603.3" y2="610.9"/>
<line class="k" x1="857.30" x2="857.30" y1="56.5" y2="48.9"/>
<line class="k" x1="857.30" x2="857.30" y1="603.3" y2="610.9"/>
<text class="t" text-anchor="middle" x="189.90" y="627.8">5</text>
<text class="t" text-anchor="middle" x="857.80" y="42">5</text>
<line class="k" x1="329.05" x2="329.05" y1="56.5" y2="48.9"/>
<line class="k" x1="329.05" x2="329.05" y1="603.3" y2="610.9"/>
<line class="k" x1="997.03" x2="997.03" y1="56.5" y2="48.9"/>
<line class="k" x1="997.03" x2="997.03" y1="603.3" y2="610.9"/>
<text class="t" text-anchor="middle" x="329.55" y="627.8">10</text>
<text class="t" text-anchor="middle" x="997.53" y="42">10</text>
<line class="k" x1="468.70" x2="468.70" y1="56.5" y2="48.9"/>
<line class="k" x1="468.70" x2="468.70" y1="603.3" y2="610.9"/>
<line class="k" x1="1136.77" x2="1136.77" y1="56.5" y2="48.9"/>
<line class="k" x1="1136.77" x2="1136.77" y1="603.3" y2="610.9"/>
<text class="t" text-anchor="middle" x="469.20" y="627.8">15</text>
<text class="t" text-anchor="middle" x="1137.27" y="42">15</text>
<line class="k" x1="608.35" x2="608.35" y1="56.5" y2="48.9"/>
<line class="k" x1="608.35" x2="608.35" y1="603.3" y2="610.9"/>
<line class="k" x1="1276.50" x2="1276.50" y1="56.5" y2="48.9"/>
<line class="k" x1="1276.50" x2="1276.50" y1="603.3" y2="610.9"/>
<text class="t" text-anchor="middle" x="608.85" y="627.8">20</text>
<text class="t" text-anchor="middle" x="1277.00" y="42">20</text>
<line class="k" x1="64.7" x2="57.1" y1="570.80" y2="570.80"/>
<line class="k" x1="1401.3" x2="1408.8999999999999" y1="570.80" y2="570.80"/>
<text class="t" text-anchor="end" x="50.2" y="576.10">0</text>
<line class="k" x1="64.7" x2="57.1" y1="474.40" y2="474.40"/>
<line class="k" x1="1401.3" x2="1408.8999999999999" y1="474.40" y2="474.40"/>
<text class="t" text-anchor="end" x="50.2" y="479.70">5</text>
<line class="k" x1="64.7" x2="57.1" y1="378.00" y2="378.00"/>
<line class="k" x1="1401.3" x2="1408.8999999999999" y1="378.00" y2="378.00"/>
<text class="t" text-anchor="end" x="50.2" y="383.30">10</text>
<line class="k" x1="64.7" x2="57.1" y1="281.60" y2="281.60"/>
<line class="k" x1="1401.3" x2="1408.8999999999999" y1="281.60" y2="281.60"/>
<text class="t" text-anchor="end" x="50.2" y="286.90">15</text>
<line class="k" x1="64.7" x2="57.1" y1="185.20" y2="185.20"/>
<line class="k" x1="1401.3" x2="1408.8999999999999" y1="185.20" y2="185.20"/>
<text class="t" text-anchor="end" x="50.2" y="190.50">20</text>
<line class="k" x1="64.7" x2="57.1" y1="88.80" y2="88.80"/>
<line class="k" x1="1401.3" x2="1408.8999999999999" y1="88.80" y2="88.80"/>
<text class="t" text-anchor="end" x="50.2" y="94.10">25</text>
<text class="l" text-anchor="middle" x="398.75" y="71.8">female</text>
<text class="l" text-anchor="middle" x="1067.05" y="71.8">male</text>
<text class="l" text-anchor="middle" x="733.3" y="655.8">extraversion</text>
<text class="l" text-anchor="middle" transform="translate(19.6,339.55) rotate(-90)">neuroticism</text>
</svg></body></html>
